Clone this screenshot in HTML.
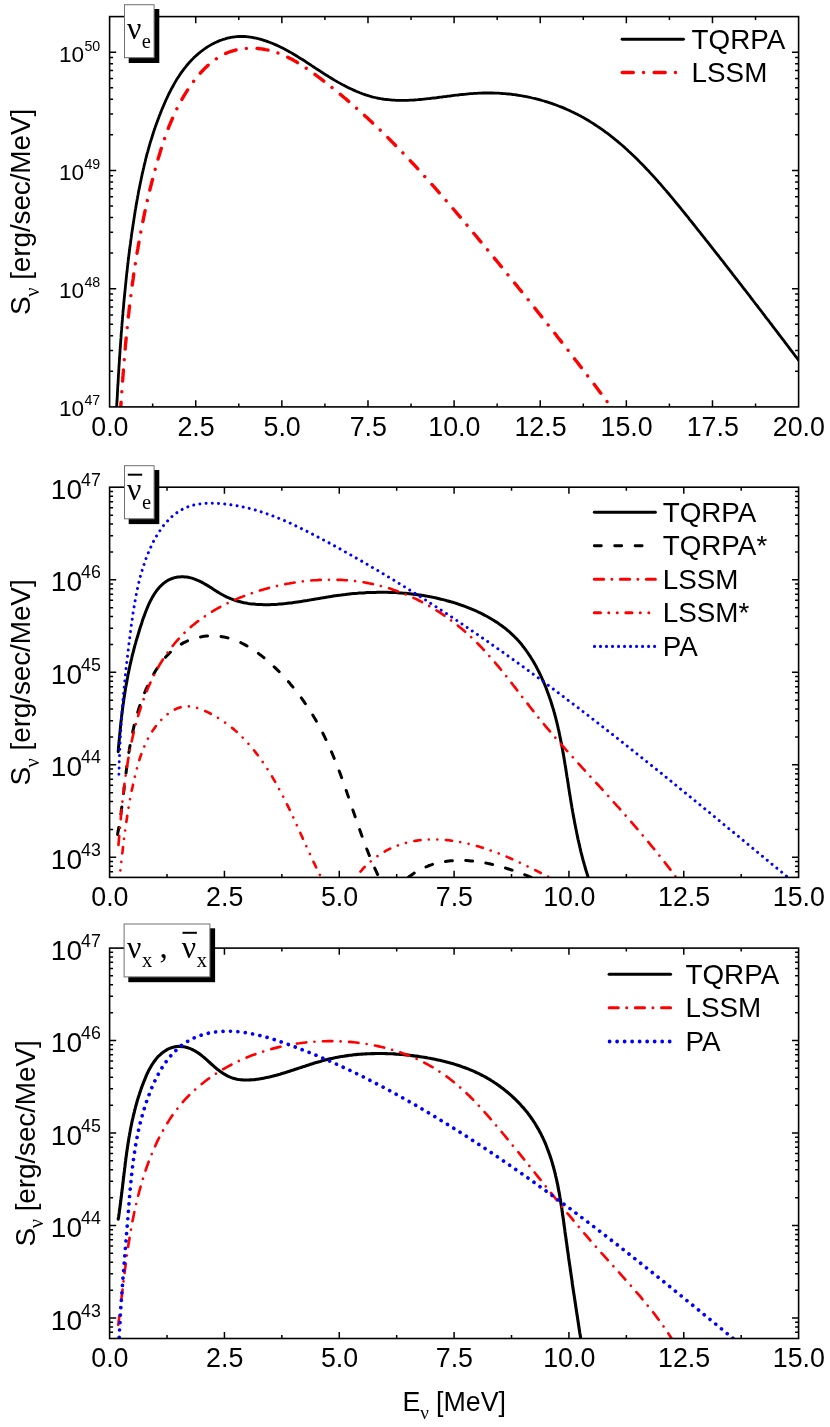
<!DOCTYPE html>
<html lang="en"><head><meta charset="utf-8"><title>Neutrino spectra</title>
<style>html,body{margin:0;padding:0;background:#fff}svg{display:block;will-change:transform}</style></head>
<body>
<svg width="830" height="1427" viewBox="0 0 830 1427">
<rect x="0" y="0" width="830" height="1427" fill="#fff"/>
<defs>
<clipPath id="c0"><rect x="109.6" y="16.6" width="689" height="390.3"/></clipPath>
<clipPath id="c1"><rect x="109.6" y="487.2" width="689" height="390.2"/></clipPath>
<clipPath id="c2"><rect x="109.6" y="948.1" width="689" height="390.4"/></clipPath>
</defs>
<g clip-path="url(#c0)" fill="none" stroke-linecap="round" stroke-linejoin="round">
<path d="M116.0 419.9L116.1 417.9L116.2 415.9L116.3 413.9L116.4 412.0L116.5 410.0L116.6 408.0L116.7 406.0L116.8 404.0L116.9 402.0L117.1 400.0L117.2 398.0L117.3 396.0L117.4 394.0L117.5 392.0L117.6 390.0L117.7 388.0L117.8 386.0L118.0 384.0L118.1 382.0L118.2 380.0L118.3 378.0L118.4 376.0L118.5 374.0L118.7 372.0L118.8 370.0L118.9 368.0L119.0 366.0L119.2 364.0L119.3 362.0L119.4 360.0L119.6 358.0L119.7 356.0L119.8 354.0L120.0 352.0L120.1 350.0L120.2 348.0L120.4 346.0L120.5 344.0L120.7 342.0L120.8 340.0L121.0 337.9L121.1 335.9L121.2 333.9L121.4 331.9L121.6 329.9L121.7 327.9L121.9 325.9L122.0 323.9L122.2 321.9L122.4 319.9L122.5 317.9L122.7 315.9L122.9 313.9L123.0 311.8L123.2 309.8L123.4 307.8L123.6 305.8L123.7 303.8L123.9 301.8L124.1 299.8L124.3 297.8L124.5 295.8L124.7 293.8L124.9 291.8L125.1 289.8L125.3 287.8L125.5 285.8L125.7 283.8L125.9 281.8L126.1 279.8L126.3 277.8L126.5 275.8L126.7 273.8L127.0 271.8L127.2 269.8L127.4 267.8L127.6 265.8L127.9 263.8L128.1 261.8L128.3 259.8L128.6 257.8L128.8 255.8L129.1 253.8L129.3 251.8L129.6 249.8L129.8 247.8L130.1 245.9L130.4 243.9L130.6 241.9L130.9 239.9L131.2 237.9L131.4 235.9L131.7 233.9L132.0 232.0L132.3 230.0L132.6 228.0L132.9 226.0L133.2 224.0L133.5 222.1L133.8 220.1L134.1 218.1L134.4 216.1L134.7 214.2L135.0 212.2L135.3 210.2L135.7 208.3L136.0 206.3L136.3 204.3L136.7 202.4L137.0 200.4L137.4 198.5L137.7 196.5L138.1 194.5L138.4 192.6L138.8 190.6L139.2 188.7L139.6 186.7L140.0 184.8L140.4 182.8L140.8 180.9L141.2 178.9L141.6 177.0L142.0 175.0L142.4 173.1L142.9 171.1L143.3 169.2L143.8 167.3L144.2 165.3L144.7 163.4L145.2 161.5L145.6 159.5L146.1 157.6L146.6 155.7L147.1 153.7L147.7 151.8L148.2 149.9L148.7 148.0L149.3 146.0L149.8 144.1L150.4 142.2L151.0 140.3L151.6 138.4L152.2 136.5L152.8 134.5L153.4 132.6L154.0 130.7L154.7 128.8L155.3 126.9L156.0 125.0L156.7 123.1L157.4 121.2L158.1 119.3L158.8 117.4L159.5 115.5L160.3 113.6L161.0 111.7L161.8 109.8L162.6 107.9L163.4 106.0L164.2 104.1L165.0 102.3L165.8 100.4L166.7 98.5L167.6 96.7L168.4 94.8L169.3 93.0L170.3 91.1L171.2 89.3L172.2 87.5L173.2 85.7L174.2 83.9L175.2 82.1L176.2 80.4L177.3 78.6L178.4 76.9L179.5 75.2L180.6 73.6L181.8 71.9L183.0 70.3L184.2 68.7L185.5 67.1L186.7 65.5L188.0 64.0L189.3 62.5L190.7 61.0L192.1 59.6L193.5 58.1L194.9 56.7L196.4 55.4L197.9 54.1L199.4 52.8L201.0 51.5L202.6 50.3L204.2 49.2L205.8 48.0L207.5 46.9L209.2 45.9L210.9 44.9L212.6 43.9L214.4 43.0L216.2 42.2L218.0 41.4L219.8 40.6L221.6 40.0L223.4 39.3L225.3 38.8L227.2 38.2L229.1 37.8L230.9 37.4L232.8 37.1L234.8 36.8L236.7 36.6L238.6 36.5L240.5 36.4L242.5 36.5L244.4 36.5L246.3 36.7L248.3 36.9L250.2 37.1L252.2 37.4L254.1 37.8L256.1 38.2L258.0 38.6L259.9 39.1L261.9 39.7L263.8 40.3L265.7 40.9L267.6 41.6L269.5 42.3L271.4 43.0L273.3 43.8L275.2 44.6L277.1 45.4L278.9 46.3L280.8 47.2L282.6 48.1L284.4 49.0L286.2 50.0L288.0 51.0L289.7 51.9L291.5 52.9L293.3 54.0L295.0 55.0L296.7 56.0L298.4 57.1L300.1 58.2L301.9 59.2L303.6 60.3L305.3 61.4L306.9 62.5L308.6 63.6L310.3 64.7L312.0 65.9L313.7 67.0L315.4 68.1L317.1 69.2L318.8 70.3L320.5 71.4L322.2 72.5L323.9 73.6L325.6 74.7L327.4 75.8L329.1 76.9L330.9 78.0L332.6 79.0L334.4 80.1L336.2 81.1L337.9 82.1L339.7 83.1L341.5 84.1L343.3 85.1L345.1 86.0L347.0 87.0L348.8 87.9L350.6 88.7L352.5 89.6L354.3 90.4L356.1 91.2L358.0 92.0L359.9 92.8L361.7 93.5L363.6 94.2L365.5 94.8L367.4 95.4L369.3 96.0L371.2 96.6L373.1 97.1L375.0 97.5L376.9 98.0L378.8 98.3L380.7 98.7L382.6 99.0L384.6 99.3L386.5 99.5L388.4 99.7L390.4 99.9L392.3 100.1L394.3 100.2L396.2 100.3L398.2 100.3L400.2 100.4L402.1 100.4L404.1 100.4L406.1 100.3L408.0 100.3L410.0 100.2L412.0 100.1L414.0 100.0L416.0 99.8L418.0 99.7L419.9 99.5L421.9 99.3L423.9 99.1L425.9 98.9L427.9 98.7L429.9 98.5L431.9 98.2L433.9 98.0L436.0 97.8L438.0 97.5L440.0 97.2L442.0 97.0L444.0 96.7L446.0 96.5L448.0 96.2L450.1 96.0L452.1 95.7L454.1 95.4L456.1 95.2L458.2 95.0L460.2 94.7L462.2 94.5L464.2 94.3L466.3 94.1L468.3 93.9L470.3 93.7L472.3 93.6L474.4 93.4L476.4 93.3L478.4 93.2L480.4 93.1L482.5 93.0L484.5 93.0L486.5 93.0L488.5 92.9L490.6 93.0L492.6 93.0L494.6 93.1L496.6 93.1L498.6 93.2L500.6 93.3L502.7 93.5L504.7 93.6L506.7 93.8L508.7 94.0L510.7 94.2L512.7 94.5L514.7 94.7L516.7 95.0L518.6 95.3L520.6 95.6L522.6 96.0L524.6 96.3L526.5 96.7L528.5 97.1L530.5 97.5L532.4 98.0L534.4 98.4L536.3 98.9L538.2 99.4L540.2 99.9L542.1 100.5L544.0 101.0L545.9 101.6L547.8 102.2L549.7 102.8L551.6 103.4L553.5 104.1L555.4 104.8L557.2 105.5L559.1 106.2L560.9 106.9L562.8 107.6L564.6 108.4L566.4 109.2L568.2 110.0L570.0 110.8L571.8 111.7L573.6 112.5L575.4 113.4L577.2 114.3L578.9 115.2L580.7 116.1L582.4 117.1L584.1 118.0L585.8 119.0L587.5 120.0L589.2 121.0L590.9 122.1L592.6 123.1L594.2 124.2L595.9 125.3L597.5 126.4L599.2 127.5L600.8 128.6L602.4 129.7L604.0 130.9L605.6 132.1L607.2 133.2L608.8 134.4L610.4 135.7L611.9 136.9L613.5 138.1L615.0 139.4L616.6 140.6L618.1 141.9L619.6 143.2L621.2 144.5L622.7 145.8L624.2 147.1L625.7 148.5L627.2 149.8L628.6 151.2L630.1 152.5L631.6 153.9L633.0 155.3L634.5 156.7L635.9 158.1L637.4 159.5L638.8 160.9L640.2 162.4L641.6 163.8L643.1 165.3L644.5 166.7L645.9 168.2L647.3 169.7L648.7 171.1L650.0 172.6L651.4 174.1L652.8 175.6L654.2 177.1L655.5 178.6L656.9 180.2L658.2 181.7L659.6 183.2L660.9 184.7L662.3 186.3L663.6 187.8L664.9 189.4L666.3 190.9L667.6 192.5L668.9 194.0L670.2 195.6L671.5 197.2L672.8 198.7L674.1 200.3L675.4 201.9L676.7 203.5L678.0 205.0L679.3 206.6L680.6 208.2L681.9 209.8L683.2 211.4L684.4 212.9L685.7 214.5L687.0 216.1L688.3 217.7L689.5 219.3L690.8 220.9L692.0 222.4L693.3 224.0L694.6 225.6L695.8 227.2L697.1 228.8L698.3 230.3L699.6 231.9L700.8 233.5L702.1 235.1L703.3 236.6L704.6 238.2L705.8 239.8L707.1 241.3L708.3 242.9L709.5 244.5L710.8 246.1L712.0 247.6L713.2 249.2L714.5 250.8L715.7 252.3L716.9 253.9L718.2 255.5L719.4 257.0L720.6 258.6L721.8 260.2L723.1 261.7L724.3 263.3L725.5 264.9L726.7 266.4L727.9 268.0L729.2 269.6L730.4 271.1L731.6 272.7L732.8 274.3L734.0 275.8L735.2 277.4L736.5 279.0L737.7 280.5L738.9 282.1L740.1 283.7L741.3 285.2L742.5 286.8L743.7 288.4L745.0 290.0L746.2 291.5L747.4 293.1L748.6 294.7L749.8 296.2L751.0 297.8L752.2 299.4L753.4 301.0L754.6 302.5L755.8 304.1L757.1 305.7L758.3 307.3L759.5 308.9L760.7 310.4L761.9 312.0L763.1 313.6L764.3 315.2L765.5 316.8L766.7 318.4L768.0 319.9L769.2 321.5L770.4 323.1L771.6 324.7L772.8 326.3L774.0 327.9L775.2 329.5L776.5 331.1L777.7 332.7L778.9 334.3L780.1 335.9L781.3 337.5L782.6 339.1L783.8 340.7L785.0 342.3L786.2 343.9L787.4 345.5L788.7 347.2L789.9 348.8L791.1 350.4L792.4 352.0L793.6 353.6L794.8 355.3L796.1 356.9L797.3 358.5L798.5 360.2L799.8 361.8L801.0 363.4L802.2 365.1L803.5 366.7L804.7 368.3L806.0 370.0" stroke="#000" stroke-width="2.8"/>
<path d="M120.0 420.2L120.1 418.2L120.2 416.2L120.3 414.1L120.5 412.1L120.6 410.1L120.7 408.1L120.8 406.1L121.0 404.0L121.1 402.0L121.2 400.0L121.4 398.0L121.5 396.0L121.7 394.0L121.8 392.0L121.9 389.9L122.1 387.9L122.2 385.9L122.4 383.9L122.5 381.9L122.7 379.9L122.8 377.9L123.0 375.9L123.1 373.9L123.3 371.9L123.4 369.9L123.6 367.9L123.7 365.9L123.9 363.9L124.1 361.9L124.2 359.9L124.4 357.9L124.6 355.9L124.7 353.9L124.9 351.9L125.1 349.9L125.3 347.9L125.4 345.9L125.6 343.9L125.8 341.9L126.0 339.9L126.2 337.9L126.4 335.9L126.6 333.9L126.8 331.9L127.0 329.9L127.2 327.9L127.4 325.9L127.6 324.0L127.8 322.0L128.0 320.0L128.2 318.0L128.4 316.0L128.7 314.0L128.9 312.0L129.1 310.1L129.3 308.1L129.6 306.1L129.8 304.1L130.1 302.1L130.3 300.1L130.5 298.2L130.8 296.2L131.0 294.2L131.3 292.2L131.6 290.2L131.8 288.3L132.1 286.3L132.3 284.3L132.6 282.3L132.9 280.4L133.2 278.4L133.4 276.4L133.7 274.4L134.0 272.5L134.3 270.5L134.6 268.5L134.9 266.5L135.2 264.6L135.5 262.6L135.8 260.6L136.1 258.7L136.5 256.7L136.8 254.7L137.1 252.8L137.4 250.8L137.8 248.8L138.1 246.9L138.5 244.9L138.8 242.9L139.2 241.0L139.5 239.0L139.9 237.0L140.2 235.1L140.6 233.1L141.0 231.1L141.3 229.2L141.7 227.2L142.1 225.3L142.5 223.3L142.9 221.3L143.3 219.4L143.7 217.4L144.1 215.5L144.5 213.5L144.9 211.5L145.4 209.6L145.8 207.6L146.2 205.7L146.7 203.7L147.1 201.8L147.5 199.8L148.0 197.8L148.4 195.9L148.9 193.9L149.4 192.0L149.8 190.0L150.3 188.1L150.8 186.1L151.3 184.2L151.8 182.2L152.3 180.3L152.8 178.3L153.3 176.4L153.8 174.4L154.3 172.5L154.9 170.5L155.4 168.6L155.9 166.6L156.5 164.7L157.0 162.7L157.6 160.8L158.1 158.8L158.7 156.9L159.3 154.9L159.9 153.0L160.5 151.1L161.1 149.1L161.7 147.2L162.3 145.3L162.9 143.3L163.6 141.4L164.2 139.5L164.9 137.6L165.6 135.7L166.3 133.8L167.0 131.9L167.7 130.0L168.4 128.1L169.1 126.2L169.9 124.3L170.7 122.5L171.5 120.6L172.3 118.8L173.1 116.9L173.9 115.1L174.8 113.2L175.6 111.4L176.5 109.6L177.4 107.8L178.3 106.0L179.2 104.2L180.2 102.4L181.2 100.7L182.2 98.9L183.2 97.2L184.2 95.4L185.3 93.7L186.3 92.0L187.4 90.3L188.5 88.6L189.7 86.9L190.8 85.2L192.0 83.6L193.2 81.9L194.5 80.3L195.7 78.7L197.0 77.1L198.3 75.5L199.6 74.0L200.9 72.4L202.3 71.0L203.7 69.5L205.1 68.1L206.6 66.7L208.0 65.3L209.5 64.0L211.0 62.7L212.6 61.5L214.1 60.3L215.7 59.2L217.3 58.1L219.0 57.0L220.6 56.0L222.3 55.1L224.0 54.2L225.8 53.4L227.5 52.7L229.3 52.0L231.1 51.4L232.9 50.8L234.8 50.3L236.6 49.8L238.5 49.4L240.4 49.1L242.3 48.8L244.2 48.6L246.1 48.4L248.1 48.3L250.0 48.2L251.9 48.2L253.9 48.2L255.8 48.3L257.8 48.5L259.7 48.7L261.6 48.9L263.6 49.2L265.5 49.6L267.4 49.9L269.3 50.4L271.3 50.9L273.1 51.4L275.0 52.0L276.9 52.6L278.8 53.3L280.6 54.0L282.4 54.8L284.2 55.6L286.1 56.4L287.9 57.3L289.6 58.2L291.4 59.1L293.2 60.1L294.9 61.1L296.7 62.1L298.4 63.2L300.1 64.3L301.9 65.3L303.6 66.5L305.3 67.6L307.0 68.8L308.7 69.9L310.3 71.1L312.0 72.3L313.7 73.5L315.3 74.7L317.0 76.0L318.6 77.2L320.3 78.4L321.9 79.7L323.5 80.9L325.1 82.2L326.7 83.4L328.4 84.7L330.0 86.0L331.6 87.2L333.1 88.5L334.7 89.8L336.3 91.1L337.9 92.3L339.5 93.6L341.0 94.9L342.6 96.2L344.1 97.5L345.7 98.8L347.2 100.1L348.8 101.5L350.3 102.8L351.8 104.1L353.4 105.4L354.9 106.8L356.4 108.1L357.9 109.4L359.4 110.8L360.9 112.1L362.4 113.5L363.9 114.8L365.4 116.2L366.9 117.5L368.3 118.9L369.8 120.3L371.3 121.6L372.7 123.0L374.2 124.4L375.7 125.8L377.1 127.2L378.6 128.6L380.0 129.9L381.4 131.3L382.9 132.7L384.3 134.1L385.7 135.5L387.2 136.9L388.6 138.4L390.0 139.8L391.4 141.2L392.8 142.6L394.2 144.0L395.6 145.5L397.0 146.9L398.4 148.3L399.8 149.7L401.2 151.2L402.6 152.6L404.0 154.1L405.3 155.5L406.7 157.0L408.1 158.4L409.5 159.9L410.8 161.3L412.2 162.8L413.6 164.2L414.9 165.7L416.3 167.2L417.6 168.6L419.0 170.1L420.3 171.6L421.7 173.0L423.0 174.5L424.3 176.0L425.7 177.5L427.0 179.0L428.3 180.4L429.7 181.9L431.0 183.4L432.3 184.9L433.7 186.4L435.0 187.9L436.3 189.4L437.6 190.9L438.9 192.4L440.2 193.9L441.6 195.4L442.9 196.9L444.2 198.4L445.5 199.9L446.8 201.4L448.1 202.9L449.4 204.5L450.7 206.0L452.0 207.5L453.3 209.0L454.6 210.5L455.9 212.0L457.2 213.6L458.5 215.1L459.8 216.6L461.0 218.1L462.3 219.7L463.6 221.2L464.9 222.7L466.2 224.3L467.5 225.8L468.8 227.3L470.0 228.9L471.3 230.4L472.6 231.9L473.9 233.5L475.2 235.0L476.5 236.5L477.7 238.1L479.0 239.6L480.3 241.2L481.6 242.7L482.9 244.2L484.1 245.8L485.4 247.3L486.7 248.9L488.0 250.4L489.2 252.0L490.5 253.5L491.8 255.0L493.1 256.6L494.3 258.1L495.6 259.7L496.9 261.2L498.2 262.8L499.4 264.3L500.7 265.9L502.0 267.4L503.2 269.0L504.5 270.6L505.8 272.1L507.0 273.7L508.3 275.2L509.6 276.8L510.8 278.3L512.1 279.9L513.4 281.5L514.6 283.0L515.9 284.6L517.2 286.1L518.4 287.7L519.7 289.3L521.0 290.8L522.2 292.4L523.5 293.9L524.7 295.5L526.0 297.1L527.2 298.6L528.5 300.2L529.8 301.8L531.0 303.3L532.3 304.9L533.5 306.5L534.8 308.1L536.0 309.6L537.3 311.2L538.5 312.8L539.8 314.3L541.0 315.9L542.3 317.5L543.5 319.1L544.8 320.6L546.0 322.2L547.3 323.8L548.5 325.4L549.7 326.9L551.0 328.5L552.2 330.1L553.5 331.7L554.7 333.2L556.0 334.8L557.2 336.4L558.4 338.0L559.7 339.6L560.9 341.1L562.1 342.7L563.4 344.3L564.6 345.9L565.8 347.5L567.1 349.1L568.3 350.6L569.5 352.2L570.7 353.8L572.0 355.4L573.2 357.0L574.4 358.6L575.6 360.2L576.9 361.8L578.1 363.3L579.3 364.9L580.5 366.5L581.8 368.1L583.0 369.7L584.2 371.3L585.4 372.9L586.6 374.5L587.8 376.1L589.0 377.7L590.3 379.3L591.5 380.8L592.7 382.4L593.9 384.0L595.1 385.6L596.3 387.2L597.5 388.8L598.7 390.4L599.9 392.0L601.1 393.6L602.3 395.2L603.5 396.8L604.7 398.4L605.9 400.0L607.1 401.6L608.3 403.2L609.5 404.8L610.7 406.4L611.9 408.0L613.0 409.6L614.2 411.2L615.4 412.8L616.6 414.4L617.8 416.0" stroke="#f00" stroke-width="3.4" stroke-dasharray="11.10 10.39 0.01 10.69" stroke-dashoffset="25.18"/>
</g>
<path d="M152.66 406.9v-3.5M152.66 16.6v3.5M195.72 406.9v-6.6M195.72 16.6v6.6M238.79 406.9v-3.5M238.79 16.6v3.5M281.85 406.9v-6.6M281.85 16.6v6.6M324.91 406.9v-3.5M324.91 16.6v3.5M367.98 406.9v-6.6M367.98 16.6v6.6M411.04 406.9v-3.5M411.04 16.6v3.5M454.1 406.9v-6.6M454.1 16.6v6.6M497.16 406.9v-3.5M497.16 16.6v3.5M540.23 406.9v-6.6M540.23 16.6v6.6M583.29 406.9v-3.5M583.29 16.6v3.5M626.35 406.9v-6.6M626.35 16.6v6.6M669.41 406.9v-3.5M669.41 16.6v3.5M712.48 406.9v-6.6M712.48 16.6v6.6M755.54 406.9v-3.5M755.54 16.6v3.5M109.6 371.31h3.5M798.6 371.31h-3.5M109.6 350.49h3.5M798.6 350.49h-3.5M109.6 335.72h3.5M798.6 335.72h-3.5M109.6 324.26h3.5M798.6 324.26h-3.5M109.6 314.9h3.5M798.6 314.9h-3.5M109.6 306.98h3.5M798.6 306.98h-3.5M109.6 300.13h3.5M798.6 300.13h-3.5M109.6 294.08h3.5M798.6 294.08h-3.5M109.6 288.67h6.6M798.6 288.67h-6.6M109.6 253.08h3.5M798.6 253.08h-3.5M109.6 232.26h3.5M798.6 232.26h-3.5M109.6 217.49h3.5M798.6 217.49h-3.5M109.6 206.03h3.5M798.6 206.03h-3.5M109.6 196.67h3.5M798.6 196.67h-3.5M109.6 188.75h3.5M798.6 188.75h-3.5M109.6 181.9h3.5M798.6 181.9h-3.5M109.6 175.85h3.5M798.6 175.85h-3.5M109.6 170.44h6.6M798.6 170.44h-6.6M109.6 134.85h3.5M798.6 134.85h-3.5M109.6 114.03h3.5M798.6 114.03h-3.5M109.6 99.26h3.5M798.6 99.26h-3.5M109.6 87.8h3.5M798.6 87.8h-3.5M109.6 78.44h3.5M798.6 78.44h-3.5M109.6 70.52h3.5M798.6 70.52h-3.5M109.6 63.67h3.5M798.6 63.67h-3.5M109.6 57.62h3.5M798.6 57.62h-3.5M109.6 52.21h6.6M798.6 52.21h-6.6" stroke="#000" stroke-width="1.5" fill="none"/>
<rect x="109.6" y="16.6" width="689" height="390.3" fill="none" stroke="#000" stroke-width="1.6"/>
<g font-family="Liberation Sans, sans-serif" font-size="26.8" text-anchor="middle" fill="#000">
<text x="109.9" y="435.9">0.0</text>
<text x="196.03" y="435.9">2.5</text>
<text x="282.15" y="435.9">5.0</text>
<text x="368.28" y="435.9">7.5</text>
<text x="454.4" y="435.9">10.0</text>
<text x="540.52" y="435.9">12.5</text>
<text x="626.65" y="435.9">15.0</text>
<text x="712.77" y="435.9">17.5</text>
<text x="798.9" y="435.9">20.0</text>
</g>
<g font-family="Liberation Sans, sans-serif" fill="#000">
<text x="84.2" y="416.2" font-size="22.6" text-anchor="end">10</text>
<text x="84.4" y="405.4" font-size="14.2">47</text>
<text x="84.2" y="297.97" font-size="22.6" text-anchor="end">10</text>
<text x="84.4" y="287.17" font-size="14.2">48</text>
<text x="84.2" y="179.74" font-size="22.6" text-anchor="end">10</text>
<text x="84.4" y="168.94" font-size="14.2">49</text>
<text x="84.2" y="61.51" font-size="22.6" text-anchor="end">10</text>
<text x="84.4" y="50.71" font-size="14.2">50</text>
</g>
<g clip-path="url(#c1)" fill="none" stroke-linecap="round" stroke-linejoin="round">
<path d="M118.2 751.7L118.4 749.6L118.5 747.5L118.7 745.4L118.9 743.2L119.1 741.2L119.3 739.1L119.5 737.0L119.7 734.9L119.9 732.9L120.1 730.8L120.3 728.8L120.5 726.8L120.7 724.7L120.9 722.7L121.1 720.7L121.4 718.7L121.6 716.7L121.8 714.7L122.1 712.8L122.3 710.8L122.6 708.8L122.8 706.9L123.1 704.9L123.4 702.9L123.6 701.0L123.9 699.0L124.2 697.1L124.5 695.2L124.8 693.2L125.1 691.3L125.4 689.4L125.7 687.4L126.1 685.5L126.4 683.6L126.8 681.7L127.1 679.8L127.5 677.8L127.8 675.9L128.2 674.0L128.6 672.1L129.0 670.1L129.4 668.2L129.8 666.3L130.2 664.4L130.7 662.5L131.1 660.5L131.6 658.6L132.0 656.7L132.5 654.7L133.0 652.8L133.5 650.9L134.0 648.9L134.5 647.0L135.0 645.0L135.6 643.1L136.1 641.1L136.7 639.1L137.3 637.2L137.9 635.2L138.5 633.2L139.1 631.2L139.7 629.2L140.3 627.2L141.0 625.2L141.7 623.2L142.3 621.1L143.0 619.1L143.7 617.1L144.5 615.1L145.2 613.0L146.0 611.0L146.8 609.0L147.6 607.1L148.4 605.1L149.3 603.2L150.2 601.3L151.2 599.5L152.1 597.7L153.2 595.9L154.2 594.2L155.3 592.6L156.4 591.0L157.6 589.4L158.8 588.0L160.1 586.6L161.4 585.3L162.8 584.0L164.2 582.9L165.7 581.8L167.2 580.8L168.8 579.9L170.5 579.2L172.2 578.5L173.9 577.9L175.7 577.4L177.6 577.1L179.4 576.9L181.3 576.7L183.2 576.7L185.1 576.9L187.0 577.1L188.9 577.4L190.8 577.9L192.7 578.4L194.6 579.1L196.5 579.8L198.3 580.6L200.1 581.4L202.0 582.4L203.8 583.3L205.5 584.4L207.3 585.4L209.1 586.5L210.9 587.6L212.6 588.7L214.4 589.9L216.1 591.0L217.9 592.1L219.7 593.2L221.5 594.2L223.3 595.2L225.1 596.2L226.9 597.1L228.8 597.9L230.6 598.7L232.5 599.4L234.4 600.1L236.3 600.7L238.2 601.3L240.1 601.8L242.1 602.3L244.0 602.7L246.0 603.0L247.9 603.4L249.9 603.7L251.9 603.9L253.8 604.1L255.8 604.3L257.8 604.4L259.8 604.5L261.8 604.6L263.7 604.7L265.7 604.7L267.7 604.7L269.7 604.7L271.6 604.6L273.6 604.5L275.6 604.4L277.6 604.3L279.5 604.1L281.5 604.0L283.5 603.8L285.5 603.6L287.5 603.3L289.4 603.1L291.4 602.9L293.4 602.6L295.4 602.3L297.4 602.0L299.4 601.7L301.3 601.4L303.3 601.1L305.3 600.8L307.3 600.5L309.3 600.1L311.3 599.8L313.3 599.4L315.3 599.1L317.3 598.8L319.3 598.4L321.2 598.1L323.2 597.7L325.2 597.4L327.2 597.1L329.2 596.7L331.2 596.4L333.2 596.1L335.2 595.8L337.2 595.5L339.3 595.2L341.3 595.0L343.3 594.7L345.3 594.5L347.3 594.2L349.3 594.0L351.3 593.8L353.3 593.6L355.3 593.4L357.4 593.3L359.4 593.1L361.4 593.0L363.4 592.9L365.4 592.7L367.4 592.6L369.5 592.5L371.5 592.5L373.5 592.4L375.5 592.4L377.5 592.3L379.5 592.3L381.5 592.3L383.6 592.3L385.6 592.3L387.6 592.3L389.6 592.4L391.6 592.5L393.6 592.5L395.6 592.6L397.6 592.7L399.6 592.9L401.6 593.0L403.6 593.2L405.6 593.3L407.6 593.5L409.6 593.7L411.6 593.9L413.6 594.2L415.6 594.4L417.6 594.7L419.5 595.0L421.5 595.3L423.5 595.6L425.5 595.9L427.4 596.3L429.4 596.6L431.4 597.0L433.3 597.4L435.3 597.8L437.2 598.2L439.2 598.7L441.1 599.2L443.1 599.6L445.0 600.1L447.0 600.7L448.9 601.2L450.8 601.8L452.7 602.3L454.7 602.9L456.6 603.5L458.5 604.2L460.4 604.8L462.3 605.5L464.2 606.2L466.1 606.9L467.9 607.6L469.8 608.3L471.7 609.1L473.5 609.9L475.4 610.7L477.2 611.5L479.0 612.4L480.8 613.2L482.6 614.1L484.4 615.1L486.2 616.0L488.0 617.0L489.7 618.0L491.4 619.0L493.1 620.0L494.8 621.1L496.5 622.1L498.2 623.2L499.8 624.4L501.4 625.5L503.0 626.7L504.6 627.9L506.2 629.2L507.7 630.5L509.2 631.7L510.7 633.1L512.1 634.4L513.6 635.8L515.0 637.2L516.4 638.6L517.7 640.1L519.1 641.6L520.4 643.1L521.7 644.6L522.9 646.2L524.2 647.8L525.4 649.4L526.5 651.0L527.7 652.7L528.8 654.4L530.0 656.1L531.0 657.8L532.1 659.5L533.2 661.2L534.2 663.0L535.2 664.8L536.2 666.5L537.1 668.3L538.0 670.1L539.0 672.0L539.9 673.8L540.7 675.6L541.6 677.5L542.4 679.3L543.2 681.2L544.0 683.0L544.8 684.9L545.6 686.7L546.3 688.6L547.0 690.5L547.7 692.4L548.4 694.3L549.1 696.2L549.7 698.0L550.4 699.9L551.0 701.8L551.6 703.8L552.2 705.7L552.8 707.6L553.4 709.5L553.9 711.4L554.5 713.3L555.0 715.3L555.5 717.2L556.0 719.1L556.5 721.1L557.0 723.0L557.4 725.0L557.9 726.9L558.3 728.9L558.8 730.8L559.2 732.8L559.6 734.7L560.0 736.7L560.4 738.6L560.8 740.6L561.2 742.6L561.6 744.5L562.0 746.5L562.3 748.5L562.7 750.5L563.0 752.4L563.4 754.4L563.7 756.4L564.1 758.4L564.4 760.4L564.7 762.3L565.0 764.3L565.4 766.3L565.7 768.3L566.0 770.3L566.3 772.3L566.6 774.2L566.9 776.2L567.3 778.2L567.6 780.2L567.9 782.2L568.2 784.2L568.5 786.2L568.8 788.2L569.1 790.1L569.4 792.1L569.7 794.1L570.1 796.1L570.4 798.1L570.7 800.1L571.0 802.1L571.4 804.1L571.7 806.0L572.0 808.0L572.4 810.0L572.7 812.0L573.1 814.0L573.4 815.9L573.8 817.9L574.2 819.9L574.5 821.9L574.9 823.8L575.3 825.8L575.7 827.8L576.1 829.7L576.5 831.7L576.9 833.7L577.3 835.6L577.7 837.6L578.1 839.6L578.6 841.5L579.0 843.5L579.5 845.4L579.9 847.4L580.4 849.4L580.8 851.3L581.3 853.3L581.8 855.2L582.3 857.1L582.8 859.1L583.3 861.0L583.9 863.0L584.4 864.9L585.0 866.8L585.5 868.8L586.1 870.7L586.7 872.6L587.3 874.5L587.9 876.4L588.5 878.4L589.1 880.3L589.7 882.2L590.4 884.1L591.0 886.0" stroke="#000" stroke-width="3.0"/>
<path d="M117.6 834.4L117.9 832.4L118.3 830.4L118.6 828.4L119.0 826.4L119.3 824.4L119.6 822.4L119.9 820.4L120.2 818.5L120.5 816.5L120.8 814.5L121.1 812.5L121.3 810.5L121.6 808.5L121.9 806.5L122.1 804.5L122.4 802.5L122.6 800.5L122.9 798.5L123.1 796.5L123.4 794.5L123.6 792.5L123.9 790.5L124.1 788.5L124.3 786.5L124.6 784.5L124.8 782.5L125.1 780.6L125.3 778.6L125.6 776.6L125.8 774.6L126.1 772.6L126.3 770.6L126.6 768.6L126.8 766.6L127.1 764.6L127.4 762.7L127.7 760.7L127.9 758.7L128.2 756.7L128.5 754.7L128.8 752.8L129.2 750.8L129.5 748.8L129.8 746.8L130.2 744.9L130.5 742.9L130.9 740.9L131.3 738.9L131.6 737.0L132.0 735.0L132.5 733.1L132.9 731.1L133.3 729.1L133.8 727.2L134.2 725.2L134.7 723.3L135.2 721.3L135.7 719.4L136.2 717.5L136.8 715.5L137.3 713.6L137.9 711.7L138.5 709.7L139.1 707.8L139.7 705.9L140.4 703.9L141.1 702.0L141.8 700.1L142.5 698.2L143.2 696.3L143.9 694.4L144.7 692.5L145.5 690.6L146.3 688.7L147.2 686.8L148.0 684.9L148.9 683.0L149.9 681.2L150.8 679.3L151.8 677.5L152.8 675.7L153.8 673.9L154.8 672.1L155.9 670.3L157.0 668.6L158.1 666.9L159.3 665.2L160.5 663.6L161.7 661.9L162.9 660.3L164.2 658.8L165.5 657.3L166.9 655.8L168.2 654.4L169.6 653.0L171.1 651.6L172.5 650.3L174.0 649.1L175.6 647.9L177.2 646.7L178.8 645.6L180.4 644.6L182.1 643.6L183.8 642.6L185.6 641.8L187.3 641.0L189.1 640.2L191.0 639.5L192.8 638.9L194.7 638.3L196.6 637.8L198.5 637.3L200.5 637.0L202.4 636.6L204.3 636.3L206.3 636.1L208.3 636.0L210.2 635.9L212.2 635.9L214.2 635.9L216.1 636.0L218.1 636.2L220.0 636.4L221.9 636.7L223.9 637.0L225.8 637.4L227.7 637.9L229.6 638.4L231.4 639.0L233.3 639.6L235.1 640.3L237.0 641.0L238.8 641.8L240.6 642.6L242.4 643.5L244.2 644.4L246.0 645.4L247.7 646.4L249.5 647.4L251.2 648.5L252.9 649.6L254.6 650.8L256.3 651.9L258.0 653.1L259.6 654.4L261.3 655.6L262.9 656.9L264.5 658.2L266.1 659.6L267.7 660.9L269.2 662.3L270.8 663.7L272.3 665.1L273.8 666.5L275.3 667.9L276.8 669.4L278.3 670.8L279.7 672.3L281.2 673.8L282.6 675.3L284.0 676.7L285.4 678.3L286.7 679.8L288.1 681.3L289.4 682.8L290.7 684.4L292.0 685.9L293.3 687.5L294.6 689.0L295.8 690.6L297.1 692.2L298.3 693.8L299.5 695.4L300.7 697.0L301.9 698.6L303.1 700.3L304.2 701.9L305.3 703.6L306.5 705.2L307.6 706.9L308.7 708.6L309.8 710.2L310.8 711.9L311.9 713.6L312.9 715.3L313.9 717.0L315.0 718.7L316.0 720.5L316.9 722.2L317.9 723.9L318.9 725.7L319.8 727.4L320.8 729.2L321.7 731.0L322.6 732.7L323.5 734.5L324.4 736.3L325.2 738.1L326.1 739.9L327.0 741.7L327.8 743.5L328.6 745.3L329.4 747.2L330.3 749.0L331.0 750.8L331.8 752.6L332.6 754.5L333.4 756.3L334.1 758.2L334.9 760.0L335.6 761.9L336.4 763.8L337.1 765.6L337.8 767.5L338.6 769.4L339.3 771.3L340.0 773.1L340.7 775.0L341.4 776.9L342.1 778.8L342.7 780.7L343.4 782.6L344.1 784.5L344.8 786.4L345.4 788.3L346.1 790.2L346.8 792.1L347.4 794.0L348.1 795.9L348.7 797.8L349.4 799.7L350.0 801.6L350.7 803.5L351.3 805.4L352.0 807.4L352.6 809.3L353.3 811.2L353.9 813.1L354.6 815.0L355.2 816.9L355.9 818.8L356.5 820.7L357.2 822.6L357.9 824.5L358.5 826.4L359.2 828.3L359.9 830.2L360.5 832.1L361.2 834.0L361.9 835.9L362.6 837.8L363.3 839.7L364.0 841.6L364.7 843.4L365.4 845.3L366.1 847.2L366.8 849.1L367.6 850.9L368.3 852.8L369.0 854.7L369.8 856.5L370.5 858.4L371.3 860.2L372.1 862.1L372.9 863.9L373.7 865.7L374.5 867.6L375.3 869.4L376.1 871.2L376.9 873.0L377.8 874.8L378.6 876.6L379.5 878.4L380.4 880.2L381.3 882.0" stroke="#000" stroke-width="3.0" stroke-dasharray="7.09 13.58" stroke-dashoffset="0.04"/>
<path d="M402.8 882.3L404.4 880.7L406.1 879.3L407.7 877.8L409.4 876.5L411.2 875.2L412.9 874.0L414.7 872.8L416.4 871.7L418.2 870.7L420.0 869.7L421.9 868.7L423.7 867.9L425.6 867.0L427.4 866.3L429.3 865.5L431.2 864.9L433.1 864.2L435.0 863.7L437.0 863.2L438.9 862.7L440.9 862.3L442.8 861.9L444.8 861.6L446.8 861.3L448.8 861.0L450.8 860.8L452.8 860.6L454.8 860.5L456.8 860.4L458.8 860.4L460.9 860.4L462.9 860.4L464.9 860.5L467.0 860.6L469.0 860.7L471.1 860.9L473.1 861.1L475.2 861.4L477.2 861.6L479.3 861.9L481.3 862.2L483.4 862.6L485.4 863.0L487.5 863.4L489.5 863.8L491.5 864.3L493.6 864.7L495.6 865.2L497.6 865.8L499.6 866.3L501.6 866.9L503.7 867.5L505.7 868.1L507.6 868.7L509.6 869.3L511.6 870.0L513.6 870.6L515.5 871.3L517.5 872.0L519.4 872.7L521.3 873.4L523.2 874.1L525.1 874.9L527.0 875.6L528.9 876.4L530.7 877.1L532.5 877.9L534.4 878.6L536.2 879.4L538.0 880.2L539.7 880.9" stroke="#000" stroke-width="3.0" stroke-dasharray="6.96 13.33" stroke-dashoffset="12.54"/>
<path d="M118.5 844.9L118.6 843.1L118.8 841.2L118.9 839.4L119.1 837.5L119.2 835.7L119.4 833.8L119.6 831.9L119.7 830.0L119.9 828.1L120.1 826.2L120.2 824.3L120.4 822.4L120.6 820.4L120.8 818.5L120.9 816.5L121.1 814.6L121.3 812.6L121.5 810.7L121.7 808.7L121.9 806.7L122.1 804.7L122.3 802.7L122.5 800.7L122.7 798.7L123.0 796.7L123.2 794.7L123.4 792.7L123.7 790.7L123.9 788.7L124.2 786.7L124.4 784.7L124.7 782.6L125.0 780.6L125.2 778.6L125.5 776.6L125.8 774.5L126.1 772.5L126.4 770.5L126.7 768.4L127.0 766.4L127.4 764.4L127.7 762.3L128.0 760.3L128.4 758.3L128.8 756.2L129.1 754.2L129.5 752.2L129.9 750.1L130.3 748.1L130.7 746.1L131.1 744.1L131.5 742.1L132.0 740.0L132.4 738.0L132.9 736.0L133.4 734.0L133.8 732.0L134.3 730.0L134.8 728.0L135.3 726.0L135.9 724.1L136.4 722.1L136.9 720.1L137.5 718.1L138.1 716.2L138.6 714.2L139.2 712.3L139.9 710.3L140.5 708.4L141.1 706.5L141.8 704.5L142.4 702.6L143.1 700.7L143.8 698.8L144.5 696.9L145.2 695.1L145.9 693.2L146.7 691.3L147.4 689.5L148.2 687.6L149.0 685.8L149.8 684.0L150.6 682.2L151.5 680.4L152.3 678.6L153.2 676.8L154.1 675.0L155.0 673.3L155.9 671.5L156.8 669.8L157.8 668.1L158.7 666.4L159.7 664.7L160.7 663.0L161.7 661.3L162.8 659.7L163.8 658.0L164.9 656.4L166.0 654.8L167.1 653.2L168.2 651.6L169.4 650.1L170.6 648.5L171.7 647.0L173.0 645.5L174.2 644.0L175.4 642.5L176.7 641.0L178.0 639.6L179.3 638.1L180.6 636.7L181.9 635.3L183.3 633.9L184.7 632.6L186.1 631.2L187.5 629.9L189.0 628.6L190.5 627.3L191.9 626.0L193.5 624.8L195.0 623.6L196.5 622.3L198.1 621.1L199.7 620.0L201.3 618.8L202.9 617.6L204.5 616.5L206.2 615.4L207.8 614.3L209.5 613.2L211.2 612.2L212.9 611.1L214.6 610.1L216.3 609.1L218.1 608.1L219.9 607.2L221.6 606.2L223.4 605.3L225.2 604.4L227.0 603.5L228.9 602.6L230.7 601.7L232.5 600.9L234.4 600.0L236.3 599.2L238.1 598.4L240.0 597.6L241.9 596.9L243.8 596.1L245.7 595.4L247.6 594.7L249.5 594.0L251.5 593.3L253.4 592.6L255.4 592.0L257.3 591.4L259.3 590.7L261.2 590.1L263.2 589.6L265.2 589.0L267.1 588.4L269.1 587.9L271.1 587.4L273.1 586.9L275.1 586.4L277.1 585.9L279.1 585.5L281.0 585.0L283.0 584.6L285.0 584.2L287.0 583.8L289.0 583.5L291.0 583.1L293.0 582.8L295.1 582.4L297.1 582.1L299.1 581.9L301.1 581.6L303.1 581.3L305.1 581.1L307.1 580.9L309.1 580.7L311.1 580.5L313.1 580.3L315.1 580.2L317.2 580.1L319.2 579.9L321.2 579.9L323.2 579.8L325.2 579.7L327.2 579.7L329.2 579.7L331.2 579.7L333.2 579.7L335.2 579.7L337.2 579.8L339.2 579.8L341.2 579.9L343.2 580.0L345.2 580.2L347.1 580.3L349.1 580.5L351.1 580.7L353.1 580.9L355.1 581.1L357.0 581.4L359.0 581.6L361.0 581.9L362.9 582.2L364.9 582.5L366.8 582.9L368.8 583.3L370.7 583.6L372.7 584.0L374.6 584.5L376.6 584.9L378.5 585.4L380.4 585.9L382.3 586.4L384.2 586.9L386.1 587.5L388.0 588.0L389.9 588.6L391.8 589.2L393.7 589.9L395.6 590.5L397.5 591.2L399.3 591.9L401.2 592.6L403.0 593.3L404.9 594.1L406.7 594.8L408.5 595.6L410.4 596.4L412.2 597.2L414.0 598.1L415.8 598.9L417.6 599.8L419.4 600.7L421.2 601.6L422.9 602.5L424.7 603.5L426.4 604.4L428.2 605.4L429.9 606.4L431.7 607.4L433.4 608.5L435.1 609.5L436.8 610.6L438.5 611.6L440.2 612.7L441.8 613.8L443.5 614.9L445.1 616.1L446.8 617.2L448.4 618.4L450.0 619.6L451.6 620.8L453.2 622.0L454.8 623.2L456.4 624.4L458.0 625.7L459.5 627.0L461.1 628.2L462.6 629.5L464.1 630.8L465.6 632.1L467.1 633.5L468.6 634.8L470.1 636.2L471.6 637.5L473.0 638.9L474.4 640.3L475.9 641.7L477.3 643.1L478.7 644.5L480.1 646.0L481.5 647.4L482.8 648.9L484.2 650.3L485.6 651.8L486.9 653.3L488.3 654.8L489.6 656.3L490.9 657.8L492.2 659.3L493.5 660.8L494.8 662.3L496.1 663.9L497.4 665.4L498.7 666.9L500.0 668.5L501.2 670.0L502.5 671.6L503.8 673.2L505.0 674.7L506.3 676.3L507.5 677.9L508.8 679.5L510.0 681.1L511.3 682.6L512.5 684.2L513.7 685.8L515.0 687.4L516.2 689.0L517.4 690.6L518.7 692.2L519.9 693.8L521.1 695.4L522.3 697.0L523.6 698.6L524.8 700.2L526.0 701.8L527.3 703.3L528.5 704.9L529.7 706.5L531.0 708.1L532.2 709.7L533.5 711.3L534.7 712.8L536.0 714.4L537.2 716.0L538.5 717.6L539.8 719.1L541.0 720.7L542.3 722.2L543.6 723.8L544.9 725.3L546.1 726.8L547.4 728.4L548.7 729.9L550.0 731.4L551.3 733.0L552.6 734.5L553.9 736.0L555.2 737.5L556.5 739.0L557.9 740.5L559.2 742.0L560.5 743.5L561.8 745.0L563.1 746.5L564.5 748.0L565.8 749.5L567.1 751.0L568.5 752.5L569.8 754.0L571.2 755.5L572.5 756.9L573.8 758.4L575.2 759.9L576.5 761.4L577.9 762.9L579.2 764.3L580.6 765.8L581.9 767.3L583.3 768.8L584.6 770.2L586.0 771.7L587.3 773.2L588.7 774.7L590.0 776.1L591.4 777.6L592.7 779.1L594.1 780.5L595.4 782.0L596.8 783.5L598.2 785.0L599.5 786.4L600.9 787.9L602.2 789.4L603.6 790.9L604.9 792.4L606.3 793.8L607.6 795.3L609.0 796.8L610.3 798.3L611.6 799.8L613.0 801.3L614.3 802.8L615.7 804.3L617.0 805.8L618.3 807.2L619.7 808.7L621.0 810.2L622.3 811.7L623.7 813.3L625.0 814.8L626.3 816.3L627.6 817.8L629.0 819.3L630.3 820.8L631.6 822.3L632.9 823.8L634.2 825.4L635.5 826.9L636.8 828.4L638.1 829.9L639.4 831.5L640.7 833.0L642.0 834.5L643.3 836.1L644.6 837.6L645.9 839.1L647.2 840.7L648.5 842.2L649.8 843.8L651.0 845.3L652.3 846.9L653.6 848.4L654.8 850.0L656.1 851.6L657.4 853.1L658.6 854.7L659.9 856.2L661.1 857.8L662.4 859.4L663.6 861.0L664.9 862.5L666.1 864.1L667.3 865.7L668.6 867.3L669.8 868.9L671.0 870.5L672.2 872.1L673.4 873.7L674.6 875.3L675.8 876.9L677.1 878.5L678.2 880.1L679.4 881.7L680.6 883.3" stroke="#f00" stroke-width="2.65" stroke-dasharray="9.48 8.22 0.01 8.52" stroke-dashoffset="0.5"/>
<path d="M118.9 884.1L119.1 882.1L119.3 880.0L119.5 878.0L119.8 876.0L120.0 874.0L120.2 871.9L120.4 869.9L120.7 867.9L120.9 865.9L121.1 863.9L121.3 861.9L121.6 859.9L121.8 857.8L122.0 855.8L122.2 853.8L122.5 851.9L122.7 849.9L122.9 847.9L123.2 845.9L123.4 843.9L123.7 841.9L123.9 839.9L124.1 837.9L124.4 836.0L124.7 834.0L124.9 832.0L125.2 830.0L125.5 828.0L125.7 826.1L126.0 824.1L126.3 822.1L126.6 820.2L126.9 818.2L127.2 816.2L127.5 814.3L127.8 812.3L128.1 810.3L128.4 808.3L128.8 806.4L129.1 804.4L129.5 802.4L129.8 800.5L130.2 798.5L130.6 796.6L130.9 794.6L131.3 792.6L131.7 790.6L132.1 788.7L132.6 786.7L133.0 784.7L133.4 782.8L133.9 780.8L134.3 778.8L134.8 776.9L135.3 774.9L135.8 772.9L136.3 770.9L136.8 769.0L137.3 767.0L137.9 765.0L138.4 763.1L139.0 761.1L139.6 759.1L140.2 757.2L140.9 755.3L141.6 753.3L142.3 751.4L143.0 749.5L143.8 747.6L144.6 745.7L145.4 743.9L146.3 742.0L147.2 740.2L148.1 738.3L149.1 736.5L150.1 734.8L151.2 733.0L152.3 731.3L153.4 729.6L154.6 727.9L155.8 726.2L157.1 724.6L158.5 722.9L159.8 721.4L161.3 719.8L162.7 718.4L164.2 717.0L165.8 715.6L167.4 714.3L169.0 713.1L170.6 711.9L172.3 710.9L174.0 709.9L175.8 709.1L177.5 708.3L179.3 707.7L181.1 707.1L183.0 706.7L184.8 706.4L186.7 706.3L188.6 706.3L190.5 706.4L192.4 706.7L194.3 707.1L196.2 707.6L198.2 708.2L200.1 708.9L202.0 709.6L203.9 710.4L205.7 711.3L207.6 712.1L209.4 713.0L211.2 714.0L213.0 714.9L214.8 715.9L216.5 716.9L218.2 718.0L219.9 719.0L221.6 720.1L223.2 721.2L224.8 722.4L226.4 723.5L228.0 724.7L229.6 725.9L231.1 727.1L232.7 728.4L234.2 729.6L235.6 730.9L237.1 732.2L238.6 733.6L240.0 734.9L241.4 736.3L242.8 737.7L244.2 739.1L245.5 740.5L246.9 742.0L248.2 743.4L249.5 744.9L250.8 746.4L252.1 747.9L253.3 749.5L254.6 751.0L255.8 752.6L257.0 754.2L258.3 755.7L259.4 757.4L260.6 759.0L261.8 760.6L262.9 762.3L264.1 763.9L265.2 765.6L266.3 767.3L267.4 769.0L268.5 770.7L269.5 772.4L270.6 774.1L271.7 775.9L272.7 777.6L273.7 779.4L274.8 781.1L275.8 782.9L276.8 784.7L277.8 786.5L278.7 788.3L279.7 790.1L280.7 791.9L281.6 793.7L282.6 795.5L283.5 797.4L284.4 799.2L285.4 801.0L286.3 802.9L287.2 804.7L288.1 806.6L289.0 808.4L289.9 810.3L290.8 812.1L291.6 814.0L292.5 815.9L293.4 817.7L294.3 819.6L295.1 821.4L296.0 823.3L296.8 825.2L297.7 827.0L298.5 828.9L299.4 830.8L300.2 832.6L301.0 834.5L301.9 836.3L302.7 838.2L303.5 840.0L304.4 841.9L305.2 843.7L306.0 845.6L306.9 847.4L307.7 849.2L308.5 851.0L309.4 852.8L310.2 854.7L311.0 856.5L311.8 858.3L312.7 860.0L313.5 861.8L314.4 863.6L315.2 865.3L316.0 867.1L316.9 868.8L317.7 870.6L318.6 872.3L319.4 874.0L320.3 875.7L321.2 877.4L322.0 879.1L322.9 880.7L323.8 882.4" stroke="#f00" stroke-width="2.65" stroke-dasharray="6.23 8.29 0.01 8.54 0.01 8.59" stroke-dashoffset="0.74"/>
<path d="M351.3 884.0L352.5 882.1L353.7 880.3L354.9 878.5L356.2 876.8L357.5 875.1L358.8 873.5L360.2 871.8L361.6 870.3L363.0 868.7L364.4 867.2L365.9 865.7L367.4 864.3L368.9 862.9L370.5 861.6L372.0 860.2L373.6 859.0L375.2 857.7L376.8 856.5L378.5 855.4L380.2 854.3L381.9 853.2L383.6 852.2L385.3 851.2L387.1 850.2L388.8 849.3L390.6 848.4L392.4 847.6L394.2 846.8L396.0 846.1L397.9 845.4L399.8 844.7L401.6 844.1L403.5 843.5L405.4 843.0L407.3 842.5L409.2 842.0L411.2 841.6L413.1 841.2L415.1 840.9L417.0 840.6L419.0 840.3L420.9 840.1L422.9 839.9L424.9 839.7L426.9 839.6L428.9 839.5L430.9 839.4L432.9 839.4L434.9 839.4L436.9 839.5L438.9 839.5L441.0 839.6L443.0 839.8L445.0 839.9L447.0 840.1L449.0 840.3L451.0 840.6L453.0 840.8L455.0 841.1L457.0 841.5L459.0 841.8L461.0 842.2L463.0 842.6L465.0 843.0L467.0 843.5L469.0 843.9L471.0 844.4L472.9 844.9L474.9 845.5L476.8 846.0L478.8 846.6L480.8 847.2L482.7 847.8L484.6 848.4L486.6 849.0L488.5 849.7L490.4 850.4L492.4 851.1L494.3 851.8L496.2 852.5L498.1 853.2L500.0 854.0L501.9 854.8L503.8 855.5L505.7 856.3L507.6 857.1L509.4 857.9L511.3 858.8L513.2 859.6L515.0 860.4L516.9 861.3L518.7 862.1L520.6 863.0L522.4 863.9L524.3 864.7L526.1 865.6L527.9 866.5L529.7 867.4L531.5 868.3L533.4 869.2L535.2 870.1L537.0 871.0L538.7 871.9L540.5 872.8L542.3 873.7L544.1 874.6L545.9 875.5L547.6 876.4L549.4 877.3L551.1 878.2L552.9 879.1L554.6 880.0L556.4 880.9L558.1 881.8L559.8 882.7" stroke="#f00" stroke-width="2.65" stroke-dasharray="6.22 8.28 0.01 8.53 0.01 8.58" stroke-dashoffset="16.17"/>
<path d="M118.9 774.3L119.0 772.3L119.0 770.3L119.1 768.2L119.1 766.2L119.2 764.2L119.2 762.2L119.3 760.2L119.4 758.1L119.5 756.1L119.5 754.1L119.6 752.1L119.7 750.1L119.8 748.1L119.9 746.1L120.0 744.1L120.1 742.0L120.2 740.0L120.3 738.0L120.4 736.0L120.5 734.0L120.7 732.0L120.8 730.0L120.9 728.0L121.0 726.0L121.2 724.0L121.3 722.0L121.4 720.0L121.6 718.0L121.7 716.0L121.9 714.0L122.0 712.0L122.2 710.0L122.3 708.0L122.5 706.1L122.7 704.1L122.8 702.1L123.0 700.1L123.2 698.1L123.4 696.1L123.5 694.1L123.7 692.1L123.9 690.1L124.1 688.1L124.3 686.2L124.5 684.2L124.7 682.2L124.9 680.2L125.1 678.2L125.3 676.2L125.5 674.2L125.7 672.2L125.9 670.3L126.1 668.3L126.3 666.3L126.6 664.3L126.8 662.3L127.0 660.3L127.2 658.3L127.5 656.4L127.7 654.4L127.9 652.4L128.2 650.4L128.4 648.4L128.6 646.4L128.9 644.5L129.1 642.5L129.4 640.5L129.6 638.5L129.9 636.5L130.1 634.5L130.4 632.5L130.6 630.6L130.9 628.6L131.2 626.6L131.4 624.6L131.7 622.6L132.0 620.6L132.3 618.6L132.5 616.7L132.8 614.7L133.1 612.7L133.4 610.7L133.7 608.7L134.1 606.7L134.4 604.7L134.7 602.8L135.1 600.8L135.4 598.8L135.8 596.8L136.2 594.9L136.6 592.9L137.0 590.9L137.4 588.9L137.8 587.0L138.3 585.0L138.7 583.0L139.2 581.1L139.7 579.1L140.2 577.1L140.7 575.2L141.3 573.2L141.9 571.3L142.4 569.3L143.1 567.4L143.7 565.4L144.3 563.5L145.0 561.5L145.7 559.6L146.4 557.6L147.1 555.7L147.9 553.8L148.7 551.9L149.5 550.0L150.3 548.1L151.2 546.2L152.1 544.3L153.0 542.5L153.9 540.6L154.9 538.8L155.9 537.1L156.9 535.3L158.0 533.6L159.1 531.9L160.2 530.2L161.3 528.6L162.5 527.0L163.7 525.4L164.9 523.9L166.2 522.4L167.5 521.0L168.8 519.6L170.1 518.2L171.5 516.9L172.9 515.7L174.4 514.5L175.9 513.3L177.4 512.3L179.0 511.2L180.6 510.3L182.2 509.4L183.9 508.5L185.6 507.7L187.3 507.0L189.1 506.4L190.9 505.8L192.7 505.3L194.6 504.9L196.5 504.5L198.4 504.1L200.4 503.9L202.3 503.6L204.3 503.5L206.3 503.3L208.3 503.3L210.3 503.2L212.3 503.2L214.4 503.3L216.4 503.3L218.4 503.4L220.5 503.6L222.5 503.7L224.5 503.9L226.5 504.2L228.5 504.4L230.5 504.7L232.5 505.0L234.5 505.3L236.5 505.6L238.5 506.0L240.4 506.4L242.4 506.8L244.3 507.2L246.3 507.7L248.2 508.1L250.2 508.6L252.1 509.1L254.0 509.7L255.9 510.2L257.9 510.8L259.8 511.4L261.7 512.0L263.6 512.6L265.4 513.3L267.3 513.9L269.2 514.6L271.1 515.3L273.0 516.0L274.8 516.7L276.7 517.4L278.5 518.2L280.4 518.9L282.2 519.7L284.1 520.5L285.9 521.3L287.8 522.1L289.6 522.9L291.4 523.8L293.3 524.6L295.1 525.5L296.9 526.3L298.7 527.2L300.5 528.1L302.3 529.0L304.1 529.9L305.9 530.8L307.7 531.7L309.5 532.6L311.3 533.5L313.1 534.5L314.9 535.4L316.7 536.3L318.5 537.3L320.3 538.2L322.1 539.2L323.8 540.1L325.6 541.1L327.4 542.0L329.2 543.0L330.9 544.0L332.7 544.9L334.5 545.9L336.2 546.9L338.0 547.8L339.8 548.8L341.5 549.8L343.3 550.8L345.1 551.8L346.8 552.7L348.6 553.7L350.3 554.7L352.1 555.7L353.8 556.7L355.6 557.7L357.3 558.7L359.1 559.7L360.8 560.7L362.6 561.7L364.3 562.7L366.0 563.7L367.8 564.7L369.5 565.7L371.3 566.8L373.0 567.8L374.7 568.8L376.5 569.8L378.2 570.8L379.9 571.9L381.6 572.9L383.4 573.9L385.1 574.9L386.8 576.0L388.5 577.0L390.2 578.1L392.0 579.1L393.7 580.1L395.4 581.2L397.1 582.2L398.8 583.3L400.5 584.3L402.2 585.4L403.9 586.4L405.6 587.5L407.3 588.6L409.0 589.6L410.7 590.7L412.4 591.7L414.1 592.8L415.8 593.9L417.5 594.9L419.2 596.0L420.9 597.1L422.6 598.2L424.3 599.2L426.0 600.3L427.7 601.4L429.4 602.5L431.0 603.6L432.7 604.7L434.4 605.8L436.1 606.8L437.8 607.9L439.4 609.0L441.1 610.1L442.8 611.2L444.5 612.3L446.1 613.4L447.8 614.5L449.5 615.6L451.2 616.7L452.8 617.9L454.5 619.0L456.2 620.1L457.8 621.2L459.5 622.3L461.1 623.4L462.8 624.5L464.5 625.7L466.1 626.8L467.8 627.9L469.4 629.0L471.1 630.2L472.7 631.3L474.4 632.4L476.0 633.5L477.7 634.7L479.3 635.8L481.0 637.0L482.6 638.1L484.3 639.2L485.9 640.4L487.6 641.5L489.2 642.7L490.8 643.8L492.5 645.0L494.1 646.1L495.8 647.3L497.4 648.4L499.0 649.6L500.7 650.7L502.3 651.9L503.9 653.0L505.6 654.2L507.2 655.4L508.8 656.5L510.4 657.7L512.1 658.8L513.7 660.0L515.3 661.2L516.9 662.3L518.6 663.5L520.2 664.7L521.8 665.9L523.4 667.0L525.0 668.2L526.7 669.4L528.3 670.6L529.9 671.8L531.5 672.9L533.1 674.1L534.7 675.3L536.3 676.5L538.0 677.7L539.6 678.9L541.2 680.0L542.8 681.2L544.4 682.4L546.0 683.6L547.6 684.8L549.2 686.0L550.8 687.2L552.4 688.4L554.0 689.6L555.6 690.8L557.2 692.0L558.8 693.2L560.4 694.4L562.0 695.6L563.6 696.8L565.2 698.0L566.8 699.2L568.4 700.5L570.0 701.7L571.6 702.9L573.2 704.1L574.8 705.3L576.4 706.5L578.0 707.7L579.6 708.9L581.1 710.2L582.7 711.4L584.3 712.6L585.9 713.8L587.5 715.0L589.1 716.3L590.7 717.5L592.2 718.7L593.8 719.9L595.4 721.2L597.0 722.4L598.6 723.6L600.2 724.9L601.7 726.1L603.3 727.3L604.9 728.6L606.5 729.8L608.0 731.0L609.6 732.3L611.2 733.5L612.8 734.7L614.3 736.0L615.9 737.2L617.5 738.4L619.1 739.7L620.6 740.9L622.2 742.2L623.8 743.4L625.4 744.6L626.9 745.9L628.5 747.1L630.1 748.4L631.6 749.6L633.2 750.9L634.8 752.1L636.3 753.4L637.9 754.6L639.5 755.9L641.0 757.1L642.6 758.4L644.2 759.6L645.7 760.9L647.3 762.1L648.9 763.4L650.4 764.6L652.0 765.9L653.6 767.2L655.1 768.4L656.7 769.7L658.2 770.9L659.8 772.2L661.4 773.4L662.9 774.7L664.5 776.0L666.0 777.2L667.6 778.5L669.2 779.7L670.7 781.0L672.3 782.3L673.8 783.5L675.4 784.8L676.9 786.1L678.5 787.3L680.0 788.6L681.6 789.9L683.2 791.1L684.7 792.4L686.3 793.7L687.8 794.9L689.4 796.2L690.9 797.5L692.5 798.7L694.0 800.0L695.6 801.3L697.1 802.5L698.7 803.8L700.3 805.1L701.8 806.4L703.4 807.6L704.9 808.9L706.5 810.2L708.0 811.4L709.6 812.7L711.1 814.0L712.7 815.3L714.2 816.5L715.8 817.8L717.3 819.1L718.9 820.4L720.4 821.6L722.0 822.9L723.5 824.2L725.1 825.5L726.6 826.7L728.2 828.0L729.7 829.3L731.3 830.6L732.8 831.8L734.4 833.1L735.9 834.4L737.5 835.7L739.0 836.9L740.5 838.2L742.1 839.5L743.6 840.8L745.2 842.1L746.7 843.3L748.3 844.6L749.8 845.9L751.4 847.2L752.9 848.4L754.5 849.7L756.0 851.0L757.6 852.3L759.1 853.6L760.7 854.8L762.2 856.1L763.8 857.4L765.3 858.7L766.9 860.0L768.4 861.2L770.0 862.5L771.5 863.8L773.1 865.1L774.6 866.3L776.2 867.6L777.7 868.9L779.3 870.2L780.8 871.5L782.4 872.7L783.9 874.0L785.5 875.3L787.0 876.6L788.6 877.8L790.1 879.1L791.7 880.4L793.2 881.7L794.8 882.9" stroke="#00f" stroke-width="3.0" stroke-dasharray="0.01 6.22" stroke-dashoffset="6.15"/>
</g>
<path d="M167.02 877.4v-3.5M167.02 487.2v3.5M224.43 877.4v-6.6M224.43 487.2v6.6M281.85 877.4v-3.5M281.85 487.2v3.5M339.27 877.4v-6.6M339.27 487.2v6.6M396.68 877.4v-3.5M396.68 487.2v3.5M454.1 877.4v-6.6M454.1 487.2v6.6M511.52 877.4v-3.5M511.52 487.2v3.5M568.93 877.4v-6.6M568.93 487.2v6.6M626.35 877.4v-3.5M626.35 487.2v3.5M683.77 877.4v-6.6M683.77 487.2v6.6M741.18 877.4v-3.5M741.18 487.2v3.5M109.6 871.63h3.5M798.6 871.63h-3.5M109.6 866.26h3.5M798.6 866.26h-3.5M109.6 861.53h3.5M798.6 861.53h-3.5M109.6 857.3h6.6M798.6 857.3h-6.6M109.6 829.45h3.5M798.6 829.45h-3.5M109.6 813.17h3.5M798.6 813.17h-3.5M109.6 801.61h3.5M798.6 801.61h-3.5M109.6 792.65h3.5M798.6 792.65h-3.5M109.6 785.32h3.5M798.6 785.32h-3.5M109.6 779.13h3.5M798.6 779.13h-3.5M109.6 773.76h3.5M798.6 773.76h-3.5M109.6 769.03h3.5M798.6 769.03h-3.5M109.6 764.8h6.6M798.6 764.8h-6.6M109.6 736.95h3.5M798.6 736.95h-3.5M109.6 720.67h3.5M798.6 720.67h-3.5M109.6 709.11h3.5M798.6 709.11h-3.5M109.6 700.15h3.5M798.6 700.15h-3.5M109.6 692.82h3.5M798.6 692.82h-3.5M109.6 686.63h3.5M798.6 686.63h-3.5M109.6 681.26h3.5M798.6 681.26h-3.5M109.6 676.53h3.5M798.6 676.53h-3.5M109.6 672.3h6.6M798.6 672.3h-6.6M109.6 644.45h3.5M798.6 644.45h-3.5M109.6 628.17h3.5M798.6 628.17h-3.5M109.6 616.61h3.5M798.6 616.61h-3.5M109.6 607.65h3.5M798.6 607.65h-3.5M109.6 600.32h3.5M798.6 600.32h-3.5M109.6 594.13h3.5M798.6 594.13h-3.5M109.6 588.76h3.5M798.6 588.76h-3.5M109.6 584.03h3.5M798.6 584.03h-3.5M109.6 579.8h6.6M798.6 579.8h-6.6M109.6 551.95h3.5M798.6 551.95h-3.5M109.6 535.67h3.5M798.6 535.67h-3.5M109.6 524.11h3.5M798.6 524.11h-3.5M109.6 515.15h3.5M798.6 515.15h-3.5M109.6 507.82h3.5M798.6 507.82h-3.5M109.6 501.63h3.5M798.6 501.63h-3.5M109.6 496.26h3.5M798.6 496.26h-3.5M109.6 491.53h3.5M798.6 491.53h-3.5" stroke="#000" stroke-width="1.5" fill="none"/>
<rect x="109.6" y="487.2" width="689" height="390.2" fill="none" stroke="#000" stroke-width="1.6"/>
<g font-family="Liberation Sans, sans-serif" font-size="26.8" text-anchor="middle" fill="#000">
<text x="109.9" y="906">0.0</text>
<text x="224.73" y="906">2.5</text>
<text x="339.57" y="906">5.0</text>
<text x="454.4" y="906">7.5</text>
<text x="569.23" y="906">10.0</text>
<text x="684.07" y="906">12.5</text>
<text x="798.9" y="906">15.0</text>
</g>
<g font-family="Liberation Sans, sans-serif" fill="#000">
<text x="82.0" y="868.85" font-size="28" text-anchor="end">10</text>
<text x="81.0" y="855.8" font-size="17.8">43</text>
<text x="82.0" y="776.35" font-size="28" text-anchor="end">10</text>
<text x="81.0" y="763.3" font-size="17.8">44</text>
<text x="82.0" y="683.85" font-size="28" text-anchor="end">10</text>
<text x="81.0" y="670.8" font-size="17.8">45</text>
<text x="82.0" y="591.35" font-size="28" text-anchor="end">10</text>
<text x="81.0" y="578.3" font-size="17.8">46</text>
<text x="82.0" y="498.85" font-size="28" text-anchor="end">10</text>
<text x="81.0" y="485.8" font-size="17.8">47</text>
</g>
<g clip-path="url(#c2)" fill="none" stroke-linecap="round" stroke-linejoin="round">
<path d="M118.2 1219.1L118.6 1217.0L118.9 1215.0L119.2 1213.0L119.4 1210.9L119.7 1208.9L120.0 1206.9L120.3 1204.8L120.5 1202.8L120.8 1200.8L121.0 1198.8L121.3 1196.8L121.5 1194.8L121.8 1192.8L122.0 1190.8L122.3 1188.8L122.5 1186.8L122.7 1184.8L123.0 1182.8L123.2 1180.8L123.4 1178.8L123.7 1176.8L123.9 1174.8L124.1 1172.9L124.4 1170.9L124.6 1168.9L124.9 1166.9L125.1 1164.9L125.3 1163.0L125.6 1161.0L125.8 1159.0L126.1 1157.1L126.4 1155.1L126.6 1153.1L126.9 1151.2L127.2 1149.2L127.5 1147.3L127.8 1145.3L128.1 1143.3L128.4 1141.4L128.7 1139.4L129.0 1137.5L129.4 1135.5L129.7 1133.6L130.1 1131.6L130.4 1129.7L130.8 1127.7L131.2 1125.8L131.6 1123.8L132.0 1121.8L132.4 1119.9L132.9 1117.9L133.3 1116.0L133.8 1114.0L134.3 1112.1L134.7 1110.1L135.3 1108.2L135.8 1106.2L136.3 1104.3L136.9 1102.3L137.4 1100.4L138.0 1098.4L138.6 1096.5L139.3 1094.5L139.9 1092.5L140.6 1090.6L141.2 1088.6L141.9 1086.7L142.7 1084.7L143.4 1082.7L144.2 1080.8L145.0 1078.8L145.8 1076.9L146.6 1074.9L147.5 1073.0L148.4 1071.1L149.4 1069.3L150.4 1067.5L151.4 1065.7L152.5 1064.0L153.6 1062.3L154.8 1060.7L156.0 1059.1L157.3 1057.6L158.6 1056.1L160.1 1054.8L161.5 1053.5L163.1 1052.3L164.6 1051.2L166.3 1050.1L167.9 1049.2L169.7 1048.4L171.4 1047.8L173.2 1047.2L175.0 1046.8L176.8 1046.5L178.6 1046.4L180.4 1046.4L182.3 1046.6L184.1 1046.8L185.9 1047.2L187.8 1047.8L189.6 1048.4L191.4 1049.1L193.2 1050.0L194.9 1050.9L196.7 1052.0L198.4 1053.1L200.0 1054.3L201.7 1055.6L203.3 1056.9L205.0 1058.3L206.6 1059.7L208.1 1061.1L209.7 1062.5L211.3 1064.0L212.9 1065.4L214.5 1066.8L216.1 1068.2L217.7 1069.5L219.4 1070.7L221.0 1071.9L222.7 1073.1L224.4 1074.2L226.1 1075.1L227.8 1076.1L229.6 1076.9L231.4 1077.6L233.2 1078.2L235.1 1078.7L237.0 1079.2L238.9 1079.5L240.8 1079.7L242.7 1079.9L244.7 1080.0L246.6 1080.0L248.6 1080.0L250.6 1079.9L252.6 1079.8L254.6 1079.6L256.6 1079.3L258.6 1079.1L260.6 1078.7L262.5 1078.4L264.5 1078.0L266.4 1077.6L268.4 1077.2L270.3 1076.8L272.3 1076.3L274.2 1075.8L276.2 1075.3L278.1 1074.7L280.0 1074.2L281.9 1073.6L283.9 1073.0L285.8 1072.4L287.7 1071.8L289.6 1071.2L291.5 1070.6L293.4 1070.0L295.3 1069.3L297.2 1068.7L299.1 1068.1L301.0 1067.4L302.9 1066.8L304.9 1066.2L306.8 1065.5L308.7 1064.9L310.6 1064.3L312.5 1063.7L314.4 1063.1L316.3 1062.5L318.3 1061.9L320.2 1061.4L322.1 1060.8L324.1 1060.3L326.0 1059.8L328.0 1059.3L329.9 1058.8L331.9 1058.4L333.9 1058.0L335.8 1057.6L337.8 1057.2L339.8 1056.8L341.8 1056.5L343.7 1056.2L345.7 1055.9L347.7 1055.6L349.7 1055.3L351.7 1055.1L353.7 1054.8L355.7 1054.6L357.7 1054.4L359.8 1054.3L361.8 1054.1L363.8 1054.0L365.8 1053.9L367.8 1053.8L369.8 1053.7L371.9 1053.6L373.9 1053.6L375.9 1053.5L377.9 1053.5L379.9 1053.5L382.0 1053.5L384.0 1053.5L386.0 1053.6L388.0 1053.7L390.1 1053.7L392.1 1053.8L394.1 1053.9L396.1 1054.1L398.1 1054.2L400.1 1054.4L402.2 1054.5L404.2 1054.7L406.2 1054.9L408.2 1055.1L410.2 1055.4L412.2 1055.6L414.2 1055.9L416.2 1056.1L418.2 1056.4L420.1 1056.7L422.1 1057.0L424.1 1057.3L426.1 1057.6L428.0 1058.0L430.0 1058.3L432.0 1058.7L433.9 1059.1L435.9 1059.5L437.8 1059.9L439.8 1060.3L441.7 1060.8L443.6 1061.2L445.5 1061.7L447.4 1062.2L449.4 1062.7L451.3 1063.3L453.2 1063.8L455.0 1064.4L456.9 1065.0L458.8 1065.6L460.7 1066.2L462.5 1066.9L464.4 1067.5L466.2 1068.2L468.1 1068.9L469.9 1069.7L471.7 1070.4L473.5 1071.2L475.3 1072.0L477.1 1072.9L478.9 1073.7L480.7 1074.6L482.5 1075.5L484.2 1076.4L486.0 1077.4L487.7 1078.4L489.5 1079.4L491.2 1080.5L492.9 1081.5L494.6 1082.7L496.3 1083.8L498.0 1085.0L499.6 1086.1L501.3 1087.4L502.9 1088.6L504.6 1089.9L506.2 1091.2L507.8 1092.5L509.3 1093.8L510.9 1095.2L512.4 1096.6L513.9 1098.0L515.4 1099.4L516.9 1100.9L518.4 1102.4L519.8 1103.8L521.2 1105.4L522.5 1106.9L523.9 1108.4L525.2 1110.0L526.5 1111.6L527.8 1113.1L529.0 1114.8L530.2 1116.4L531.3 1118.0L532.5 1119.7L533.6 1121.3L534.7 1123.0L535.7 1124.7L536.7 1126.4L537.7 1128.1L538.7 1129.8L539.6 1131.6L540.6 1133.3L541.5 1135.1L542.3 1136.8L543.2 1138.6L544.0 1140.4L544.8 1142.2L545.6 1144.0L546.3 1145.8L547.0 1147.7L547.7 1149.5L548.4 1151.4L549.1 1153.2L549.8 1155.1L550.4 1157.0L551.0 1158.8L551.6 1160.7L552.2 1162.6L552.7 1164.5L553.3 1166.5L553.8 1168.4L554.3 1170.3L554.8 1172.2L555.3 1174.2L555.7 1176.1L556.2 1178.1L556.6 1180.0L557.0 1182.0L557.5 1183.9L557.9 1185.9L558.2 1187.9L558.6 1189.9L559.0 1191.9L559.4 1193.8L559.7 1195.8L560.0 1197.8L560.4 1199.8L560.7 1201.8L561.0 1203.8L561.3 1205.8L561.7 1207.8L562.0 1209.8L562.2 1211.8L562.5 1213.8L562.8 1215.8L563.1 1217.8L563.4 1219.8L563.7 1221.8L563.9 1223.8L564.2 1225.8L564.5 1227.9L564.8 1229.9L565.0 1231.9L565.3 1233.9L565.6 1235.9L565.9 1237.8L566.1 1239.8L566.4 1241.8L566.7 1243.8L567.0 1245.8L567.2 1247.8L567.5 1249.8L567.8 1251.8L568.1 1253.8L568.4 1255.8L568.6 1257.7L568.9 1259.7L569.2 1261.7L569.5 1263.7L569.8 1265.7L570.1 1267.6L570.3 1269.6L570.6 1271.6L570.9 1273.6L571.2 1275.6L571.5 1277.5L571.8 1279.5L572.1 1281.5L572.3 1283.5L572.6 1285.5L572.9 1287.4L573.2 1289.4L573.5 1291.4L573.8 1293.4L574.1 1295.3L574.4 1297.3L574.7 1299.3L575.0 1301.3L575.3 1303.3L575.6 1305.2L575.9 1307.2L576.2 1309.2L576.5 1311.2L576.8 1313.2L577.1 1315.1L577.4 1317.1L577.7 1319.1L578.0 1321.1L578.3 1323.1L578.6 1325.1L578.9 1327.1L579.2 1329.1L579.5 1331.0L579.8 1333.0L580.2 1335.0L580.5 1337.0L580.8 1339.0L581.1 1341.0L581.4 1343.0L581.7 1345.0L582.0 1347.0" stroke="#000" stroke-width="3.1"/>
<path d="M118.2 1324.8L118.5 1322.9L118.7 1320.9L119.0 1319.0L119.2 1317.0L119.5 1315.0L119.7 1313.1L120.0 1311.1L120.2 1309.1L120.4 1307.1L120.7 1305.2L120.9 1303.2L121.2 1301.2L121.4 1299.2L121.6 1297.2L121.9 1295.3L122.1 1293.3L122.3 1291.3L122.6 1289.3L122.8 1287.3L123.0 1285.3L123.3 1283.3L123.5 1281.3L123.8 1279.4L124.0 1277.4L124.3 1275.4L124.5 1273.4L124.8 1271.4L125.0 1269.4L125.3 1267.4L125.5 1265.4L125.8 1263.4L126.1 1261.4L126.3 1259.4L126.6 1257.4L126.9 1255.4L127.2 1253.4L127.5 1251.4L127.7 1249.4L128.0 1247.5L128.3 1245.5L128.6 1243.5L129.0 1241.5L129.3 1239.5L129.6 1237.5L129.9 1235.5L130.3 1233.5L130.6 1231.5L131.0 1229.5L131.3 1227.6L131.7 1225.6L132.0 1223.6L132.4 1221.6L132.8 1219.6L133.2 1217.7L133.6 1215.7L134.0 1213.7L134.4 1211.8L134.8 1209.8L135.3 1207.8L135.7 1205.9L136.2 1203.9L136.6 1201.9L137.1 1200.0L137.6 1198.0L138.1 1196.1L138.6 1194.1L139.1 1192.2L139.6 1190.2L140.1 1188.3L140.7 1186.3L141.2 1184.4L141.8 1182.5L142.4 1180.5L143.0 1178.6L143.6 1176.7L144.2 1174.8L144.8 1172.9L145.4 1170.9L146.1 1169.0L146.7 1167.1L147.4 1165.2L148.1 1163.3L148.8 1161.4L149.5 1159.6L150.3 1157.7L151.0 1155.8L151.8 1153.9L152.5 1152.1L153.3 1150.2L154.1 1148.4L155.0 1146.5L155.8 1144.7L156.6 1142.9L157.5 1141.0L158.4 1139.2L159.3 1137.4L160.2 1135.7L161.1 1133.9L162.1 1132.1L163.1 1130.4L164.0 1128.6L165.0 1126.9L166.1 1125.2L167.1 1123.5L168.2 1121.8L169.2 1120.1L170.3 1118.4L171.4 1116.8L172.6 1115.1L173.7 1113.5L174.9 1111.9L176.1 1110.3L177.3 1108.8L178.5 1107.2L179.7 1105.7L181.0 1104.1L182.3 1102.6L183.6 1101.1L184.9 1099.7L186.3 1098.2L187.7 1096.8L189.0 1095.4L190.4 1094.0L191.9 1092.6L193.3 1091.2L194.8 1089.9L196.3 1088.6L197.8 1087.3L199.3 1086.0L200.8 1084.7L202.4 1083.5L203.9 1082.2L205.5 1081.0L207.1 1079.8L208.7 1078.6L210.3 1077.5L212.0 1076.3L213.6 1075.2L215.3 1074.1L217.0 1073.0L218.7 1071.9L220.4 1070.9L222.1 1069.9L223.8 1068.8L225.6 1067.8L227.3 1066.9L229.1 1065.9L230.8 1065.0L232.6 1064.0L234.4 1063.1L236.2 1062.3L238.0 1061.4L239.8 1060.5L241.7 1059.7L243.5 1058.9L245.4 1058.1L247.2 1057.3L249.1 1056.6L250.9 1055.8L252.8 1055.1L254.7 1054.4L256.6 1053.7L258.5 1053.1L260.4 1052.4L262.3 1051.8L264.2 1051.2L266.1 1050.6L268.0 1050.0L270.0 1049.4L271.9 1048.9L273.8 1048.4L275.8 1047.9L277.7 1047.4L279.7 1046.9L281.7 1046.5L283.6 1046.0L285.6 1045.6L287.6 1045.2L289.6 1044.9L291.5 1044.5L293.5 1044.2L295.5 1043.8L297.5 1043.5L299.5 1043.3L301.5 1043.0L303.5 1042.7L305.5 1042.5L307.5 1042.3L309.5 1042.1L311.5 1041.9L313.6 1041.8L315.6 1041.6L317.6 1041.5L319.6 1041.4L321.6 1041.3L323.6 1041.2L325.7 1041.2L327.7 1041.1L329.7 1041.1L331.7 1041.1L333.8 1041.1L335.8 1041.2L337.8 1041.2L339.8 1041.3L341.9 1041.4L343.9 1041.5L345.9 1041.6L347.9 1041.8L349.9 1041.9L352.0 1042.1L354.0 1042.3L356.0 1042.5L358.0 1042.8L360.0 1043.0L362.0 1043.3L364.0 1043.6L366.0 1043.9L368.0 1044.2L370.0 1044.6L372.0 1044.9L374.0 1045.3L375.9 1045.7L377.9 1046.1L379.9 1046.6L381.8 1047.0L383.8 1047.5L385.7 1048.0L387.7 1048.5L389.6 1049.1L391.6 1049.6L393.5 1050.2L395.4 1050.8L397.3 1051.4L399.2 1052.0L401.1 1052.7L403.0 1053.4L404.9 1054.1L406.7 1054.8L408.6 1055.5L410.4 1056.2L412.3 1057.0L414.1 1057.8L415.9 1058.6L417.7 1059.4L419.5 1060.3L421.3 1061.2L423.1 1062.1L424.9 1063.0L426.6 1063.9L428.4 1064.9L430.1 1065.8L431.8 1066.8L433.5 1067.8L435.2 1068.9L436.9 1069.9L438.6 1071.0L440.2 1072.1L441.9 1073.2L443.5 1074.3L445.1 1075.5L446.8 1076.6L448.4 1077.8L449.9 1079.0L451.5 1080.2L453.1 1081.5L454.6 1082.7L456.2 1084.0L457.7 1085.3L459.2 1086.6L460.7 1087.9L462.2 1089.2L463.7 1090.5L465.1 1091.9L466.6 1093.3L468.0 1094.7L469.5 1096.0L470.9 1097.5L472.3 1098.9L473.7 1100.3L475.1 1101.7L476.5 1103.2L477.8 1104.7L479.2 1106.1L480.6 1107.6L481.9 1109.1L483.3 1110.6L484.6 1112.1L485.9 1113.6L487.3 1115.1L488.6 1116.6L489.9 1118.1L491.2 1119.7L492.5 1121.2L493.8 1122.7L495.1 1124.2L496.4 1125.8L497.7 1127.3L499.0 1128.8L500.3 1130.4L501.6 1131.9L502.9 1133.5L504.2 1135.0L505.5 1136.6L506.7 1138.1L508.0 1139.7L509.3 1141.2L510.6 1142.8L511.8 1144.3L513.1 1145.9L514.4 1147.4L515.7 1149.0L516.9 1150.5L518.2 1152.1L519.5 1153.7L520.7 1155.2L522.0 1156.8L523.3 1158.4L524.5 1159.9L525.8 1161.5L527.0 1163.0L528.3 1164.6L529.6 1166.2L530.8 1167.7L532.1 1169.3L533.3 1170.9L534.6 1172.4L535.8 1174.0L537.1 1175.6L538.3 1177.1L539.6 1178.7L540.9 1180.3L542.1 1181.8L543.4 1183.4L544.6 1185.0L545.9 1186.5L547.1 1188.1L548.4 1189.7L549.6 1191.2L550.9 1192.8L552.2 1194.4L553.4 1195.9L554.7 1197.5L555.9 1199.0L557.2 1200.6L558.5 1202.2L559.7 1203.7L561.0 1205.3L562.3 1206.8L563.5 1208.4L564.8 1209.9L566.1 1211.5L567.3 1213.1L568.6 1214.6L569.9 1216.2L571.2 1217.7L572.4 1219.2L573.7 1220.8L575.0 1222.3L576.3 1223.9L577.6 1225.4L578.9 1226.9L580.2 1228.5L581.5 1230.0L582.8 1231.5L584.1 1233.1L585.4 1234.6L586.7 1236.1L588.0 1237.6L589.3 1239.2L590.6 1240.7L591.9 1242.2L593.2 1243.7L594.5 1245.2L595.9 1246.7L597.2 1248.2L598.5 1249.7L599.9 1251.2L601.2 1252.7L602.5 1254.2L603.9 1255.7L605.2 1257.2L606.6 1258.7L607.9 1260.2L609.3 1261.7L610.6 1263.2L612.0 1264.7L613.3 1266.1L614.7 1267.6L616.0 1269.1L617.4 1270.6L618.7 1272.1L620.1 1273.6L621.4 1275.1L622.7 1276.6L624.1 1278.1L625.4 1279.6L626.8 1281.1L628.1 1282.6L629.4 1284.1L630.8 1285.6L632.1 1287.1L633.4 1288.6L634.7 1290.1L636.0 1291.6L637.3 1293.1L638.7 1294.7L640.0 1296.2L641.2 1297.7L642.5 1299.3L643.8 1300.8L645.1 1302.3L646.4 1303.9L647.6 1305.5L648.9 1307.0L650.2 1308.6L651.4 1310.2L652.6 1311.7L653.9 1313.3L655.1 1314.9L656.3 1316.5L657.5 1318.1L658.7 1319.7L659.9 1321.3L661.1 1323.0L662.3 1324.6L663.4 1326.2L664.6 1327.9L665.7 1329.6L666.9 1331.2L668.0 1332.9L669.1 1334.6L670.2 1336.3L671.3 1338.0L672.4 1339.7L673.5 1341.4L674.5 1343.1L675.6 1344.9" stroke="#f00" stroke-width="2.65" stroke-dasharray="9.46 8.20 0.01 8.50" stroke-dashoffset="0.12"/>
<path d="M118.9 1345.1L119.0 1343.1L119.1 1341.1L119.1 1339.1L119.2 1337.0L119.3 1335.0L119.4 1333.0L119.5 1331.0L119.6 1329.0L119.7 1327.0L119.8 1325.0L120.0 1322.9L120.1 1320.9L120.2 1318.9L120.3 1316.9L120.4 1314.9L120.6 1312.9L120.7 1310.9L120.8 1308.9L120.9 1306.9L121.1 1304.9L121.2 1302.9L121.3 1300.9L121.5 1298.9L121.6 1296.9L121.8 1294.9L121.9 1292.9L122.0 1290.9L122.2 1288.9L122.3 1286.9L122.5 1284.9L122.6 1282.9L122.8 1280.9L122.9 1278.9L123.1 1276.9L123.3 1274.9L123.4 1272.9L123.6 1270.9L123.7 1268.9L123.9 1266.9L124.0 1264.9L124.2 1262.9L124.4 1260.9L124.5 1258.9L124.7 1257.0L124.8 1255.0L125.0 1253.0L125.2 1251.0L125.3 1249.0L125.5 1247.0L125.7 1245.0L125.8 1243.0L126.0 1241.0L126.2 1239.0L126.3 1237.0L126.5 1235.0L126.6 1233.0L126.8 1231.0L127.0 1229.0L127.1 1227.0L127.3 1225.0L127.4 1223.0L127.6 1221.0L127.8 1219.0L127.9 1217.0L128.1 1215.0L128.2 1213.0L128.4 1211.0L128.5 1209.1L128.7 1207.1L128.9 1205.1L129.0 1203.1L129.2 1201.1L129.3 1199.1L129.5 1197.1L129.7 1195.1L129.9 1193.1L130.0 1191.1L130.2 1189.1L130.4 1187.1L130.6 1185.1L130.8 1183.1L131.0 1181.1L131.2 1179.1L131.4 1177.1L131.6 1175.1L131.8 1173.1L132.0 1171.1L132.2 1169.1L132.5 1167.1L132.7 1165.1L133.0 1163.1L133.2 1161.1L133.5 1159.1L133.8 1157.1L134.1 1155.2L134.4 1153.2L134.7 1151.2L135.0 1149.2L135.3 1147.2L135.6 1145.2L136.0 1143.3L136.3 1141.3L136.7 1139.3L137.1 1137.3L137.5 1135.3L137.9 1133.4L138.3 1131.4L138.7 1129.4L139.2 1127.5L139.6 1125.5L140.1 1123.5L140.6 1121.6L141.1 1119.6L141.6 1117.7L142.2 1115.7L142.7 1113.7L143.3 1111.8L143.9 1109.8L144.5 1107.9L145.1 1105.9L145.7 1104.0L146.4 1102.1L147.0 1100.1L147.7 1098.2L148.4 1096.3L149.2 1094.3L149.9 1092.4L150.7 1090.5L151.4 1088.6L152.3 1086.7L153.1 1084.8L153.9 1083.0L154.8 1081.1L155.7 1079.3L156.6 1077.4L157.5 1075.6L158.5 1073.9L159.5 1072.1L160.5 1070.4L161.5 1068.6L162.6 1066.9L163.7 1065.3L164.8 1063.6L165.9 1062.0L167.1 1060.4L168.3 1058.9L169.5 1057.4L170.7 1055.9L172.0 1054.4L173.3 1053.0L174.6 1051.6L176.0 1050.3L177.4 1049.0L178.8 1047.7L180.3 1046.5L181.7 1045.3L183.3 1044.2L184.8 1043.1L186.4 1042.1L188.0 1041.1L189.6 1040.1L191.3 1039.2L193.0 1038.4L194.7 1037.6L196.5 1036.9L198.3 1036.2L200.1 1035.5L201.9 1034.9L203.8 1034.4L205.7 1033.9L207.6 1033.4L209.5 1033.0L211.4 1032.6L213.4 1032.3L215.3 1032.0L217.3 1031.8L219.3 1031.6L221.3 1031.4L223.3 1031.3L225.3 1031.3L227.3 1031.2L229.3 1031.2L231.3 1031.3L233.3 1031.4L235.4 1031.5L237.4 1031.7L239.4 1031.8L241.4 1032.1L243.4 1032.3L245.4 1032.6L247.4 1032.9L249.4 1033.3L251.4 1033.7L253.4 1034.1L255.4 1034.5L257.4 1034.9L259.4 1035.4L261.4 1035.9L263.4 1036.4L265.4 1037.0L267.4 1037.5L269.3 1038.1L271.3 1038.7L273.3 1039.3L275.2 1039.9L277.2 1040.6L279.2 1041.2L281.1 1041.9L283.1 1042.6L285.0 1043.3L286.9 1043.9L288.9 1044.6L290.8 1045.4L292.7 1046.1L294.6 1046.8L296.5 1047.5L298.4 1048.2L300.3 1048.9L302.2 1049.7L304.1 1050.4L306.0 1051.2L307.8 1051.9L309.7 1052.6L311.6 1053.4L313.4 1054.2L315.3 1054.9L317.1 1055.7L319.0 1056.5L320.8 1057.3L322.6 1058.0L324.5 1058.8L326.3 1059.6L328.1 1060.4L329.9 1061.2L331.8 1062.0L333.6 1062.8L335.4 1063.7L337.2 1064.5L339.0 1065.3L340.8 1066.1L342.6 1067.0L344.4 1067.8L346.2 1068.6L348.0 1069.5L349.8 1070.3L351.6 1071.2L353.3 1072.1L355.1 1072.9L356.9 1073.8L358.7 1074.7L360.5 1075.5L362.2 1076.4L364.0 1077.3L365.8 1078.2L367.6 1079.1L369.4 1080.0L371.1 1080.9L372.9 1081.8L374.7 1082.7L376.4 1083.7L378.2 1084.6L380.0 1085.5L381.7 1086.4L383.5 1087.4L385.2 1088.3L387.0 1089.3L388.8 1090.2L390.5 1091.1L392.3 1092.1L394.0 1093.1L395.8 1094.0L397.5 1095.0L399.3 1096.0L401.0 1096.9L402.8 1097.9L404.5 1098.9L406.3 1099.9L408.0 1100.9L409.7 1101.8L411.5 1102.8L413.2 1103.8L415.0 1104.8L416.7 1105.8L418.4 1106.9L420.2 1107.9L421.9 1108.9L423.6 1109.9L425.4 1110.9L427.1 1111.9L428.8 1113.0L430.5 1114.0L432.3 1115.0L434.0 1116.1L435.7 1117.1L437.4 1118.2L439.1 1119.2L440.8 1120.3L442.6 1121.3L444.3 1122.4L446.0 1123.4L447.7 1124.5L449.4 1125.5L451.1 1126.6L452.8 1127.7L454.5 1128.7L456.2 1129.8L457.9 1130.9L459.6 1132.0L461.3 1133.1L463.0 1134.1L464.7 1135.2L466.4 1136.3L468.1 1137.4L469.8 1138.5L471.5 1139.6L473.1 1140.7L474.8 1141.8L476.5 1142.9L478.2 1144.0L479.9 1145.1L481.6 1146.2L483.2 1147.3L484.9 1148.4L486.6 1149.6L488.3 1150.7L489.9 1151.8L491.6 1152.9L493.3 1154.0L494.9 1155.2L496.6 1156.3L498.3 1157.4L499.9 1158.6L501.6 1159.7L503.2 1160.8L504.9 1162.0L506.6 1163.1L508.2 1164.2L509.9 1165.4L511.5 1166.5L513.2 1167.7L514.8 1168.8L516.5 1170.0L518.1 1171.1L519.7 1172.3L521.4 1173.4L523.0 1174.6L524.7 1175.7L526.3 1176.9L528.0 1178.0L529.6 1179.2L531.2 1180.4L532.9 1181.5L534.5 1182.7L536.1 1183.9L537.8 1185.0L539.4 1186.2L541.0 1187.4L542.6 1188.6L544.3 1189.7L545.9 1190.9L547.5 1192.1L549.1 1193.3L550.7 1194.4L552.4 1195.6L554.0 1196.8L555.6 1198.0L557.2 1199.2L558.8 1200.4L560.4 1201.6L562.1 1202.8L563.7 1204.0L565.3 1205.1L566.9 1206.3L568.5 1207.5L570.1 1208.7L571.7 1209.9L573.3 1211.1L574.9 1212.3L576.5 1213.5L578.1 1214.8L579.7 1216.0L581.3 1217.2L582.9 1218.4L584.5 1219.6L586.1 1220.8L587.7 1222.0L589.3 1223.2L590.9 1224.4L592.5 1225.7L594.1 1226.9L595.7 1228.1L597.3 1229.3L598.9 1230.5L600.4 1231.8L602.0 1233.0L603.6 1234.2L605.2 1235.4L606.8 1236.7L608.4 1237.9L610.0 1239.1L611.5 1240.3L613.1 1241.6L614.7 1242.8L616.3 1244.0L617.9 1245.3L619.4 1246.5L621.0 1247.7L622.6 1249.0L624.2 1250.2L625.7 1251.5L627.3 1252.7L628.9 1253.9L630.5 1255.2L632.0 1256.4L633.6 1257.7L635.2 1258.9L636.8 1260.2L638.3 1261.4L639.9 1262.6L641.5 1263.9L643.0 1265.1L644.6 1266.4L646.2 1267.6L647.7 1268.9L649.3 1270.1L650.9 1271.4L652.4 1272.6L654.0 1273.9L655.6 1275.2L657.1 1276.4L658.7 1277.7L660.3 1278.9L661.8 1280.2L663.4 1281.4L664.9 1282.7L666.5 1284.0L668.1 1285.2L669.6 1286.5L671.2 1287.7L672.7 1289.0L674.3 1290.3L675.9 1291.5L677.4 1292.8L679.0 1294.1L680.5 1295.3L682.1 1296.6L683.6 1297.9L685.2 1299.1L686.7 1300.4L688.3 1301.7L689.9 1302.9L691.4 1304.2L693.0 1305.5L694.5 1306.7L696.1 1308.0L697.6 1309.3L699.2 1310.5L700.7 1311.8L702.3 1313.1L703.8 1314.4L705.4 1315.6L707.0 1316.9L708.5 1318.2L710.1 1319.5L711.6 1320.7L713.2 1322.0L714.7 1323.3L716.3 1324.5L717.8 1325.8L719.4 1327.1L720.9 1328.4L722.5 1329.6L724.0 1330.9L725.6 1332.2L727.1 1333.5L728.7 1334.8L730.2 1336.0L731.8 1337.3L733.3 1338.6L734.9 1339.9L736.4 1341.1L738.0 1342.4L739.5 1343.7L741.1 1345.0" stroke="#00f" stroke-width="3.7" stroke-dasharray="0.01 7.43" stroke-dashoffset="7.21"/>
</g>
<path d="M167.02 1338.5v-3.5M167.02 948.1v3.5M224.43 1338.5v-6.6M224.43 948.1v6.6M281.85 1338.5v-3.5M281.85 948.1v3.5M339.27 1338.5v-6.6M339.27 948.1v6.6M396.68 1338.5v-3.5M396.68 948.1v3.5M454.1 1338.5v-6.6M454.1 948.1v6.6M511.52 1338.5v-3.5M511.52 948.1v3.5M568.93 1338.5v-6.6M568.93 948.1v6.6M626.35 1338.5v-3.5M626.35 948.1v3.5M683.77 1338.5v-6.6M683.77 948.1v6.6M741.18 1338.5v-3.5M741.18 948.1v3.5M109.6 1332.33h3.5M798.6 1332.33h-3.5M109.6 1326.96h3.5M798.6 1326.96h-3.5M109.6 1322.23h3.5M798.6 1322.23h-3.5M109.6 1318h6.6M798.6 1318h-6.6M109.6 1290.15h3.5M798.6 1290.15h-3.5M109.6 1273.87h3.5M798.6 1273.87h-3.5M109.6 1262.31h3.5M798.6 1262.31h-3.5M109.6 1253.35h3.5M798.6 1253.35h-3.5M109.6 1246.02h3.5M798.6 1246.02h-3.5M109.6 1239.83h3.5M798.6 1239.83h-3.5M109.6 1234.46h3.5M798.6 1234.46h-3.5M109.6 1229.73h3.5M798.6 1229.73h-3.5M109.6 1225.5h6.6M798.6 1225.5h-6.6M109.6 1197.65h3.5M798.6 1197.65h-3.5M109.6 1181.37h3.5M798.6 1181.37h-3.5M109.6 1169.81h3.5M798.6 1169.81h-3.5M109.6 1160.85h3.5M798.6 1160.85h-3.5M109.6 1153.52h3.5M798.6 1153.52h-3.5M109.6 1147.33h3.5M798.6 1147.33h-3.5M109.6 1141.96h3.5M798.6 1141.96h-3.5M109.6 1137.23h3.5M798.6 1137.23h-3.5M109.6 1133h6.6M798.6 1133h-6.6M109.6 1105.15h3.5M798.6 1105.15h-3.5M109.6 1088.87h3.5M798.6 1088.87h-3.5M109.6 1077.31h3.5M798.6 1077.31h-3.5M109.6 1068.35h3.5M798.6 1068.35h-3.5M109.6 1061.02h3.5M798.6 1061.02h-3.5M109.6 1054.83h3.5M798.6 1054.83h-3.5M109.6 1049.46h3.5M798.6 1049.46h-3.5M109.6 1044.73h3.5M798.6 1044.73h-3.5M109.6 1040.5h6.6M798.6 1040.5h-6.6M109.6 1012.65h3.5M798.6 1012.65h-3.5M109.6 996.37h3.5M798.6 996.37h-3.5M109.6 984.81h3.5M798.6 984.81h-3.5M109.6 975.85h3.5M798.6 975.85h-3.5M109.6 968.52h3.5M798.6 968.52h-3.5M109.6 962.33h3.5M798.6 962.33h-3.5M109.6 956.96h3.5M798.6 956.96h-3.5M109.6 952.23h3.5M798.6 952.23h-3.5" stroke="#000" stroke-width="1.5" fill="none"/>
<rect x="109.6" y="948.1" width="689" height="390.4" fill="none" stroke="#000" stroke-width="1.6"/>
<g font-family="Liberation Sans, sans-serif" font-size="26.8" text-anchor="middle" fill="#000">
<text x="109.9" y="1366.8">0.0</text>
<text x="224.73" y="1366.8">2.5</text>
<text x="339.57" y="1366.8">5.0</text>
<text x="454.4" y="1366.8">7.5</text>
<text x="569.23" y="1366.8">10.0</text>
<text x="684.07" y="1366.8">12.5</text>
<text x="798.9" y="1366.8">15.0</text>
</g>
<g font-family="Liberation Sans, sans-serif" fill="#000">
<text x="82.0" y="1329.55" font-size="28" text-anchor="end">10</text>
<text x="81.0" y="1316.5" font-size="17.8">43</text>
<text x="82.0" y="1237.05" font-size="28" text-anchor="end">10</text>
<text x="81.0" y="1224" font-size="17.8">44</text>
<text x="82.0" y="1144.55" font-size="28" text-anchor="end">10</text>
<text x="81.0" y="1131.5" font-size="17.8">45</text>
<text x="82.0" y="1052.05" font-size="28" text-anchor="end">10</text>
<text x="81.0" y="1039" font-size="17.8">46</text>
<text x="82.0" y="959.55" font-size="28" text-anchor="end">10</text>
<text x="81.0" y="946.5" font-size="17.8">47</text>
</g>
<g transform="translate(30.1 315) rotate(-90)"><text font-family="Liberation Sans, sans-serif" font-size="28.0" letter-spacing="-0.14" fill="#000">S<tspan font-family="Liberation Serif, serif" font-size="20.5" dy="8.6" dx="-0.4">ν</tspan><tspan dy="-8.6" dx="0.3"> [erg/sec/MeV]</tspan></text></g>
<g transform="translate(30.1 785.6) rotate(-90)"><text font-family="Liberation Sans, sans-serif" font-size="28.0" letter-spacing="-0.14" fill="#000">S<tspan font-family="Liberation Serif, serif" font-size="20.5" dy="8.6" dx="-0.4">ν</tspan><tspan dy="-8.6" dx="0.3"> [erg/sec/MeV]</tspan></text></g>
<g transform="translate(34.6 1246.5) rotate(-90)"><text font-family="Liberation Sans, sans-serif" font-size="28.0" letter-spacing="-0.14" fill="#000">S<tspan font-family="Liberation Serif, serif" font-size="20.5" dy="8.6" dx="-0.4">ν</tspan><tspan dy="-8.6" dx="0.3"> [erg/sec/MeV]</tspan></text></g>
<text x="402.4" y="1411" font-family="Liberation Sans, sans-serif" font-size="26.8" fill="#000">E<tspan font-family="Liberation Serif, serif" font-size="19" dy="8.4">ν</tspan><tspan dy="-8.4" dx="-0.3"> [MeV]</tspan></text>
<rect x="128.7" y="9" width="30.6" height="54" fill="#000"/><rect x="124.5" y="4.7" width="29.6" height="53" fill="#fff" stroke="#707070" stroke-width="1"/><text x="126.9" y="38.5" font-family="Liberation Serif, serif" font-size="31.8" fill="#000">ν</text><text x="141.7" y="47.8" font-family="Liberation Serif, serif" font-size="20.5" fill="#000">e</text>
<rect x="128.7" y="470" width="30.6" height="54.1" fill="#000"/><rect x="124.5" y="465.7" width="29.6" height="53.1" fill="#fff" stroke="#707070" stroke-width="1"/><text x="127.1" y="499.6" font-family="Liberation Serif, serif" font-size="31.8" fill="#000">ν</text><text x="141.9" y="508.9" font-family="Liberation Serif, serif" font-size="20.5" fill="#000">e</text><path d="M127.8 474.7h14.4" stroke="#000" stroke-width="2"/>
<rect x="128.3" y="928.3" width="86.8" height="53.9" fill="#000"/><rect x="124.1" y="924" width="85.8" height="52.9" fill="#fff" stroke="#707070" stroke-width="1"/><text x="126.9" y="957.7" font-family="Liberation Serif, serif" font-size="31.8" fill="#000">ν</text><text x="142" y="967" font-family="Liberation Serif, serif" font-size="20.5" fill="#000">x</text><text x="159.4" y="957.9" font-family="Liberation Serif, serif" font-size="33" fill="#000">,</text><text x="181.8" y="957.7" font-family="Liberation Serif, serif" font-size="31.8" fill="#000">ν</text><text x="196.8" y="967" font-family="Liberation Serif, serif" font-size="20.5" fill="#000">x</text><path d="M182.5 932.8h14.4" stroke="#000" stroke-width="2"/>
<g font-family="Liberation Sans, sans-serif" font-size="27.8" fill="#000">
<path d="M622.1 39.3H683.5" stroke="#000" stroke-width="2.9" stroke-linecap="round" fill="none"/>
<text x="691.6" y="48.6">TQRPA</text>
<path d="M622.25 72.6H683.5" stroke="#f00" stroke-width="3.5" stroke-linecap="round" fill="none" stroke-dasharray="11 10.3 0.01 10.6"/>
<text x="691.6" y="81.6">LSSM</text>
<path d="M594.3 512.3H655.4" stroke="#000" stroke-width="2.9" stroke-linecap="round" fill="none"/>
<path d="M594.3 545.8H655.4" stroke="#000" stroke-width="2.9" stroke-linecap="round" fill="none" stroke-dasharray="7 13.4"/>
<path d="M594.3 579.3H655.4" stroke="#f00" stroke-width="3.0" stroke-linecap="round" fill="none" stroke-dasharray="9.4 8.15 0.01 8.45"/>
<path d="M594.3 612.8H655.4" stroke="#f00" stroke-width="3.0" stroke-linecap="round" fill="none" stroke-dasharray="6.2 8.25 0.01 8.5 0.01 8.55"/>
<path d="M594.5 646.4H655.4" stroke="#00f" stroke-width="3.1" stroke-linecap="round" fill="none" stroke-dasharray="0.01 6.0"/>
<text x="662.7" y="521.7">TQRPA</text>
<text x="662.7" y="555.25">TQRPA*</text>
<text x="662.7" y="588.8">LSSM</text>
<text x="662.7" y="622.35">LSSM*</text>
<text x="662.7" y="655.9">PA</text>
<path d="M609.1 974.3H670.6" stroke="#000" stroke-width="3.0" stroke-linecap="round" fill="none"/>
<path d="M609.1 1007.8H670.6" stroke="#f00" stroke-width="3.0" stroke-linecap="round" fill="none" stroke-dasharray="9.2 8.4 0.01 8.6"/>
<path d="M609.6 1041.5H670.6" stroke="#00f" stroke-width="3.8" stroke-linecap="round" fill="none" stroke-dasharray="0.01 7.5"/>
<text x="685.5" y="983.7">TQRPA</text>
<text x="685.5" y="1017.1">LSSM</text>
<text x="685.5" y="1050.5">PA</text>
</g>
</svg>
</body></html>
